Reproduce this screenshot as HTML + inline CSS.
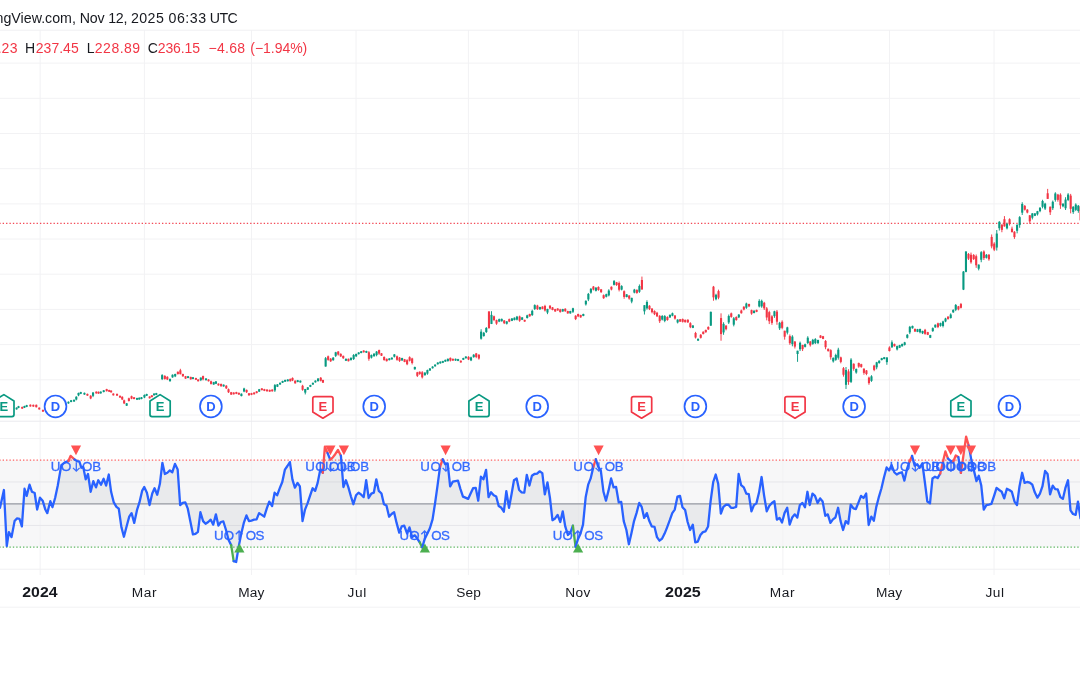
<!DOCTYPE html><html><head><meta charset="utf-8"><style>html,body{margin:0;padding:0;background:#fff;width:1080px;height:675px;overflow:hidden}</style></head><body><svg width="1080" height="675" viewBox="0 0 1080 675" style="position:absolute;left:0;top:0;will-change:transform;font-family:'Liberation Sans',sans-serif">
<rect width="1080" height="675" fill="#fff"/>
<rect x="0" y="460.2" width="1080" height="87.00000000000006" fill="#787B86" fill-opacity="0.06"/>
<line x1="40.15" y1="30.2" x2="40.15" y2="575" stroke="#F2F2F4" stroke-width="1"/>
<line x1="144.4" y1="30.2" x2="144.4" y2="575" stroke="#F2F2F4" stroke-width="1"/>
<line x1="251.5" y1="30.2" x2="251.5" y2="575" stroke="#F2F2F4" stroke-width="1"/>
<line x1="356.0" y1="30.2" x2="356.0" y2="575" stroke="#F2F2F4" stroke-width="1"/>
<line x1="468.4" y1="30.2" x2="468.4" y2="575" stroke="#F2F2F4" stroke-width="1"/>
<line x1="578.4" y1="30.2" x2="578.4" y2="575" stroke="#F2F2F4" stroke-width="1"/>
<line x1="683.0" y1="30.2" x2="683.0" y2="575" stroke="#F2F2F4" stroke-width="1"/>
<line x1="782.9" y1="30.2" x2="782.9" y2="575" stroke="#F2F2F4" stroke-width="1"/>
<line x1="889.5" y1="30.2" x2="889.5" y2="575" stroke="#F2F2F4" stroke-width="1"/>
<line x1="994.0" y1="30.2" x2="994.0" y2="575" stroke="#F2F2F4" stroke-width="1"/>
<line x1="0" y1="63.1" x2="1080" y2="63.1" stroke="#F2F2F4" stroke-width="1"/>
<line x1="0" y1="98.3" x2="1080" y2="98.3" stroke="#F2F2F4" stroke-width="1"/>
<line x1="0" y1="133.5" x2="1080" y2="133.5" stroke="#F2F2F4" stroke-width="1"/>
<line x1="0" y1="168.7" x2="1080" y2="168.7" stroke="#F2F2F4" stroke-width="1"/>
<line x1="0" y1="203.9" x2="1080" y2="203.9" stroke="#F2F2F4" stroke-width="1"/>
<line x1="0" y1="239.0" x2="1080" y2="239.0" stroke="#F2F2F4" stroke-width="1"/>
<line x1="0" y1="274.2" x2="1080" y2="274.2" stroke="#F2F2F4" stroke-width="1"/>
<line x1="0" y1="309.4" x2="1080" y2="309.4" stroke="#F2F2F4" stroke-width="1"/>
<line x1="0" y1="344.6" x2="1080" y2="344.6" stroke="#F2F2F4" stroke-width="1"/>
<line x1="0" y1="379.8" x2="1080" y2="379.8" stroke="#F2F2F4" stroke-width="1"/>
<line x1="0" y1="415.0" x2="1080" y2="415.0" stroke="#F2F2F4" stroke-width="1"/>
<line x1="0" y1="438.45" x2="1080" y2="438.45" stroke="#F2F2F4" stroke-width="1"/>
<line x1="0" y1="481.95" x2="1080" y2="481.95" stroke="#E6E6EA" stroke-width="1"/>
<line x1="0" y1="525.45" x2="1080" y2="525.45" stroke="#E6E6EA" stroke-width="1"/>
<line x1="0" y1="30.2" x2="1080" y2="30.2" stroke="#F0F0F2" stroke-width="1"/>
<line x1="0" y1="421.2" x2="1080" y2="421.2" stroke="#EAEAEE" stroke-width="1"/>
<line x1="0" y1="569.2" x2="1080" y2="569.2" stroke="#F0F0F2" stroke-width="1"/>
<line x1="0" y1="607.2" x2="1080" y2="607.2" stroke="#F2F2F4" stroke-width="1"/>
<line x1="-0.72" y1="223.3" x2="1080" y2="223.3" stroke="#F23645" stroke-width="1.2" stroke-dasharray="1.35 2.04" stroke-opacity="0.9"/>
<line x1="16.59" y1="407.37" x2="16.59" y2="409.67" stroke="#089981" stroke-width="0.95"/>
<rect x="15.54" y="407.67" width="2.1" height="1.70" fill="#089981"/>
<line x1="18.52" y1="405.89" x2="18.52" y2="408.19" stroke="#089981" stroke-width="0.95"/>
<rect x="17.47" y="406.19" width="2.1" height="1.70" fill="#089981"/>
<line x1="22.22" y1="406.63" x2="22.22" y2="408.93" stroke="#F23645" stroke-width="0.95"/>
<rect x="21.17" y="406.93" width="2.1" height="1.70" fill="#F23645"/>
<line x1="24.44" y1="405.74" x2="24.44" y2="408.04" stroke="#089981" stroke-width="0.95"/>
<rect x="23.39" y="406.04" width="2.1" height="1.70" fill="#089981"/>
<line x1="26.67" y1="404.85" x2="26.67" y2="407.15" stroke="#089981" stroke-width="0.95"/>
<rect x="25.62" y="405.15" width="2.1" height="1.70" fill="#089981"/>
<line x1="30.37" y1="404.41" x2="30.37" y2="406.71" stroke="#F23645" stroke-width="0.95"/>
<rect x="29.32" y="404.71" width="2.1" height="1.70" fill="#F23645"/>
<line x1="33.33" y1="404.55" x2="33.33" y2="406.85" stroke="#F23645" stroke-width="0.95"/>
<rect x="32.28" y="404.85" width="2.1" height="1.70" fill="#F23645"/>
<line x1="36.30" y1="404.52" x2="36.30" y2="407.48" stroke="#F23645" stroke-width="0.95"/>
<rect x="35.25" y="404.82" width="2.1" height="2.36" fill="#F23645"/>
<line x1="39.26" y1="407.37" x2="39.26" y2="409.67" stroke="#F23645" stroke-width="0.95"/>
<rect x="38.21" y="407.67" width="2.1" height="1.70" fill="#F23645"/>
<line x1="42.96" y1="409.59" x2="42.96" y2="411.89" stroke="#F23645" stroke-width="0.95"/>
<rect x="41.91" y="409.89" width="2.1" height="1.70" fill="#F23645"/>
<line x1="68.44" y1="401.44" x2="68.44" y2="403.74" stroke="#089981" stroke-width="0.95"/>
<rect x="67.39" y="401.74" width="2.1" height="1.70" fill="#089981"/>
<line x1="71.11" y1="399.96" x2="71.11" y2="402.26" stroke="#089981" stroke-width="0.95"/>
<rect x="70.06" y="400.26" width="2.1" height="1.70" fill="#089981"/>
<line x1="74.07" y1="399.52" x2="74.07" y2="401.82" stroke="#089981" stroke-width="0.95"/>
<rect x="73.02" y="399.82" width="2.1" height="1.70" fill="#089981"/>
<line x1="76.30" y1="396.22" x2="76.30" y2="400.37" stroke="#089981" stroke-width="0.95"/>
<rect x="75.25" y="396.74" width="2.1" height="2.82" fill="#089981"/>
<line x1="78.52" y1="392.67" x2="78.52" y2="396.22" stroke="#089981" stroke-width="0.95"/>
<rect x="77.47" y="392.94" width="2.1" height="2.42" fill="#089981"/>
<line x1="80.74" y1="391.81" x2="80.74" y2="394.11" stroke="#089981" stroke-width="0.95"/>
<rect x="79.69" y="392.11" width="2.1" height="1.70" fill="#089981"/>
<line x1="84.44" y1="392.55" x2="84.44" y2="394.85" stroke="#089981" stroke-width="0.95"/>
<rect x="83.39" y="392.85" width="2.1" height="1.70" fill="#089981"/>
<line x1="87.41" y1="393.59" x2="87.41" y2="395.89" stroke="#F23645" stroke-width="0.95"/>
<rect x="86.36" y="393.89" width="2.1" height="1.70" fill="#F23645"/>
<line x1="90.67" y1="395.19" x2="90.67" y2="399.19" stroke="#F23645" stroke-width="0.95"/>
<rect x="89.62" y="395.75" width="2.1" height="2.72" fill="#F23645"/>
<line x1="93.04" y1="392.22" x2="93.04" y2="397.11" stroke="#089981" stroke-width="0.95"/>
<rect x="91.99" y="392.49" width="2.1" height="3.32" fill="#089981"/>
<line x1="96.30" y1="391.37" x2="96.30" y2="393.67" stroke="#F23645" stroke-width="0.95"/>
<rect x="95.25" y="391.67" width="2.1" height="1.70" fill="#F23645"/>
<line x1="98.52" y1="391.52" x2="98.52" y2="393.82" stroke="#F23645" stroke-width="0.95"/>
<rect x="97.47" y="391.82" width="2.1" height="1.70" fill="#F23645"/>
<line x1="100.74" y1="391.37" x2="100.74" y2="393.67" stroke="#089981" stroke-width="0.95"/>
<rect x="99.69" y="391.67" width="2.1" height="1.70" fill="#089981"/>
<line x1="103.70" y1="390.04" x2="103.70" y2="392.34" stroke="#089981" stroke-width="0.95"/>
<rect x="102.65" y="390.34" width="2.1" height="1.70" fill="#089981"/>
<line x1="106.67" y1="388.81" x2="106.67" y2="391.48" stroke="#F23645" stroke-width="0.95"/>
<rect x="105.62" y="389.11" width="2.1" height="2.07" fill="#F23645"/>
<line x1="109.19" y1="389.74" x2="109.19" y2="392.04" stroke="#F23645" stroke-width="0.95"/>
<rect x="108.14" y="390.04" width="2.1" height="1.70" fill="#F23645"/>
<line x1="111.11" y1="390.33" x2="111.11" y2="392.63" stroke="#F23645" stroke-width="0.95"/>
<rect x="110.06" y="390.63" width="2.1" height="1.70" fill="#F23645"/>
<line x1="113.33" y1="393.29" x2="113.33" y2="395.59" stroke="#F23645" stroke-width="0.95"/>
<rect x="112.28" y="393.59" width="2.1" height="1.70" fill="#F23645"/>
<line x1="117.04" y1="393.59" x2="117.04" y2="395.89" stroke="#F23645" stroke-width="0.95"/>
<rect x="115.99" y="393.89" width="2.1" height="1.70" fill="#F23645"/>
<line x1="120.00" y1="395.52" x2="120.00" y2="397.82" stroke="#F23645" stroke-width="0.95"/>
<rect x="118.95" y="395.82" width="2.1" height="1.70" fill="#F23645"/>
<line x1="122.22" y1="396.22" x2="122.22" y2="400.07" stroke="#F23645" stroke-width="0.95"/>
<rect x="121.17" y="396.84" width="2.1" height="2.62" fill="#F23645"/>
<line x1="124.15" y1="399.63" x2="124.15" y2="404.07" stroke="#F23645" stroke-width="0.95"/>
<rect x="123.10" y="400.34" width="2.1" height="3.02" fill="#F23645"/>
<line x1="126.67" y1="403.04" x2="126.67" y2="406.00" stroke="#089981" stroke-width="0.95"/>
<rect x="125.62" y="403.34" width="2.1" height="2.36" fill="#089981"/>
<line x1="128.89" y1="397.70" x2="128.89" y2="401.56" stroke="#F23645" stroke-width="0.95"/>
<rect x="127.84" y="398.32" width="2.1" height="2.62" fill="#F23645"/>
<line x1="131.56" y1="395.63" x2="131.56" y2="399.19" stroke="#F23645" stroke-width="0.95"/>
<rect x="130.51" y="396.20" width="2.1" height="2.42" fill="#F23645"/>
<line x1="134.07" y1="397.00" x2="134.07" y2="399.30" stroke="#F23645" stroke-width="0.95"/>
<rect x="133.02" y="397.30" width="2.1" height="1.70" fill="#F23645"/>
<line x1="137.04" y1="397.74" x2="137.04" y2="400.04" stroke="#089981" stroke-width="0.95"/>
<rect x="135.99" y="398.04" width="2.1" height="1.70" fill="#089981"/>
<line x1="139.26" y1="397.44" x2="139.26" y2="399.74" stroke="#089981" stroke-width="0.95"/>
<rect x="138.21" y="397.74" width="2.1" height="1.70" fill="#089981"/>
<line x1="141.48" y1="397.00" x2="141.48" y2="399.30" stroke="#089981" stroke-width="0.95"/>
<rect x="140.43" y="397.30" width="2.1" height="1.70" fill="#089981"/>
<line x1="144.44" y1="394.44" x2="144.44" y2="398.15" stroke="#089981" stroke-width="0.95"/>
<rect x="143.39" y="394.96" width="2.1" height="2.52" fill="#089981"/>
<line x1="146.67" y1="393.74" x2="146.67" y2="396.04" stroke="#089981" stroke-width="0.95"/>
<rect x="145.62" y="394.04" width="2.1" height="1.70" fill="#089981"/>
<line x1="149.63" y1="396.26" x2="149.63" y2="398.56" stroke="#F23645" stroke-width="0.95"/>
<rect x="148.58" y="396.56" width="2.1" height="1.70" fill="#F23645"/>
<line x1="151.85" y1="395.07" x2="151.85" y2="397.37" stroke="#F23645" stroke-width="0.95"/>
<rect x="150.80" y="395.37" width="2.1" height="1.70" fill="#F23645"/>
<line x1="154.07" y1="393.29" x2="154.07" y2="395.59" stroke="#089981" stroke-width="0.95"/>
<rect x="153.02" y="393.59" width="2.1" height="1.70" fill="#089981"/>
<line x1="156.30" y1="392.85" x2="156.30" y2="395.15" stroke="#089981" stroke-width="0.95"/>
<rect x="155.25" y="393.15" width="2.1" height="1.70" fill="#089981"/>
<line x1="162.15" y1="374.15" x2="162.15" y2="380.07" stroke="#089981" stroke-width="0.95"/>
<rect x="161.10" y="375.10" width="2.1" height="4.03" fill="#089981"/>
<line x1="164.81" y1="375.19" x2="164.81" y2="379.63" stroke="#F23645" stroke-width="0.95"/>
<rect x="163.76" y="375.90" width="2.1" height="3.02" fill="#F23645"/>
<line x1="167.33" y1="376.22" x2="167.33" y2="380.07" stroke="#F23645" stroke-width="0.95"/>
<rect x="166.28" y="376.84" width="2.1" height="2.62" fill="#F23645"/>
<line x1="170.00" y1="378.59" x2="170.00" y2="381.56" stroke="#089981" stroke-width="0.95"/>
<rect x="168.95" y="378.89" width="2.1" height="2.36" fill="#089981"/>
<line x1="172.52" y1="374.44" x2="172.52" y2="377.70" stroke="#089981" stroke-width="0.95"/>
<rect x="171.47" y="374.74" width="2.1" height="2.66" fill="#089981"/>
<line x1="175.19" y1="373.70" x2="175.19" y2="377.11" stroke="#089981" stroke-width="0.95"/>
<rect x="174.14" y="374.03" width="2.1" height="2.32" fill="#089981"/>
<line x1="177.85" y1="371.48" x2="177.85" y2="374.44" stroke="#F23645" stroke-width="0.95"/>
<rect x="176.80" y="371.78" width="2.1" height="2.36" fill="#F23645"/>
<line x1="180.37" y1="368.81" x2="180.37" y2="374.44" stroke="#F23645" stroke-width="0.95"/>
<rect x="179.32" y="370.31" width="2.1" height="3.83" fill="#F23645"/>
<line x1="182.89" y1="373.70" x2="182.89" y2="376.67" stroke="#F23645" stroke-width="0.95"/>
<rect x="181.84" y="374.00" width="2.1" height="2.36" fill="#F23645"/>
<line x1="185.56" y1="375.93" x2="185.56" y2="378.89" stroke="#F23645" stroke-width="0.95"/>
<rect x="184.51" y="376.23" width="2.1" height="2.36" fill="#F23645"/>
<line x1="188.07" y1="375.96" x2="188.07" y2="378.26" stroke="#089981" stroke-width="0.95"/>
<rect x="187.02" y="376.26" width="2.1" height="1.70" fill="#089981"/>
<line x1="190.74" y1="376.67" x2="190.74" y2="379.63" stroke="#F23645" stroke-width="0.95"/>
<rect x="189.69" y="376.97" width="2.1" height="2.36" fill="#F23645"/>
<line x1="192.96" y1="377.00" x2="192.96" y2="379.30" stroke="#089981" stroke-width="0.95"/>
<rect x="191.91" y="377.30" width="2.1" height="1.70" fill="#089981"/>
<line x1="195.93" y1="377.74" x2="195.93" y2="380.04" stroke="#F23645" stroke-width="0.95"/>
<rect x="194.88" y="378.04" width="2.1" height="1.70" fill="#F23645"/>
<line x1="198.15" y1="379.22" x2="198.15" y2="381.52" stroke="#F23645" stroke-width="0.95"/>
<rect x="197.10" y="379.52" width="2.1" height="1.70" fill="#F23645"/>
<line x1="200.81" y1="377.41" x2="200.81" y2="381.11" stroke="#089981" stroke-width="0.95"/>
<rect x="199.76" y="377.63" width="2.1" height="2.52" fill="#089981"/>
<line x1="203.04" y1="375.63" x2="203.04" y2="380.37" stroke="#F23645" stroke-width="0.95"/>
<rect x="201.99" y="376.09" width="2.1" height="3.22" fill="#F23645"/>
<line x1="206.00" y1="378.18" x2="206.00" y2="380.48" stroke="#089981" stroke-width="0.95"/>
<rect x="204.95" y="378.48" width="2.1" height="1.70" fill="#089981"/>
<line x1="208.52" y1="379.22" x2="208.52" y2="381.52" stroke="#F23645" stroke-width="0.95"/>
<rect x="207.47" y="379.52" width="2.1" height="1.70" fill="#F23645"/>
<line x1="211.04" y1="380.67" x2="211.04" y2="384.52" stroke="#F23645" stroke-width="0.95"/>
<rect x="209.99" y="381.28" width="2.1" height="2.62" fill="#F23645"/>
<line x1="213.70" y1="381.85" x2="213.70" y2="384.81" stroke="#089981" stroke-width="0.95"/>
<rect x="212.65" y="382.15" width="2.1" height="2.36" fill="#089981"/>
<line x1="215.93" y1="381.11" x2="215.93" y2="384.07" stroke="#089981" stroke-width="0.95"/>
<rect x="214.88" y="381.41" width="2.1" height="2.36" fill="#089981"/>
<line x1="218.44" y1="383.37" x2="218.44" y2="385.67" stroke="#F23645" stroke-width="0.95"/>
<rect x="217.39" y="383.67" width="2.1" height="1.70" fill="#F23645"/>
<line x1="221.11" y1="383.63" x2="221.11" y2="386.59" stroke="#F23645" stroke-width="0.95"/>
<rect x="220.06" y="383.93" width="2.1" height="2.36" fill="#F23645"/>
<line x1="223.63" y1="384.41" x2="223.63" y2="386.71" stroke="#089981" stroke-width="0.95"/>
<rect x="222.58" y="384.71" width="2.1" height="1.70" fill="#089981"/>
<line x1="226.30" y1="385.11" x2="226.30" y2="388.96" stroke="#F23645" stroke-width="0.95"/>
<rect x="225.25" y="385.73" width="2.1" height="2.62" fill="#F23645"/>
<line x1="228.52" y1="388.52" x2="228.52" y2="392.96" stroke="#F23645" stroke-width="0.95"/>
<rect x="227.47" y="389.23" width="2.1" height="3.02" fill="#F23645"/>
<line x1="231.19" y1="391.93" x2="231.19" y2="394.89" stroke="#F23645" stroke-width="0.95"/>
<rect x="230.14" y="392.23" width="2.1" height="2.36" fill="#F23645"/>
<line x1="233.70" y1="392.26" x2="233.70" y2="394.56" stroke="#F23645" stroke-width="0.95"/>
<rect x="232.65" y="392.56" width="2.1" height="1.70" fill="#F23645"/>
<line x1="236.37" y1="391.81" x2="236.37" y2="394.11" stroke="#F23645" stroke-width="0.95"/>
<rect x="235.32" y="392.11" width="2.1" height="1.70" fill="#F23645"/>
<line x1="238.89" y1="392.55" x2="238.89" y2="394.85" stroke="#F23645" stroke-width="0.95"/>
<rect x="237.84" y="392.85" width="2.1" height="1.70" fill="#F23645"/>
<line x1="241.41" y1="393.41" x2="241.41" y2="396.37" stroke="#089981" stroke-width="0.95"/>
<rect x="240.36" y="393.71" width="2.1" height="2.36" fill="#089981"/>
<line x1="244.07" y1="387.78" x2="244.07" y2="392.22" stroke="#089981" stroke-width="0.95"/>
<rect x="243.02" y="388.49" width="2.1" height="3.02" fill="#089981"/>
<line x1="246.59" y1="389.56" x2="246.59" y2="392.96" stroke="#F23645" stroke-width="0.95"/>
<rect x="245.54" y="389.88" width="2.1" height="2.32" fill="#F23645"/>
<line x1="248.96" y1="392.96" x2="248.96" y2="395.63" stroke="#F23645" stroke-width="0.95"/>
<rect x="247.91" y="393.26" width="2.1" height="2.07" fill="#F23645"/>
<line x1="251.48" y1="392.85" x2="251.48" y2="395.15" stroke="#F23645" stroke-width="0.95"/>
<rect x="250.43" y="393.15" width="2.1" height="1.70" fill="#F23645"/>
<line x1="254.15" y1="392.26" x2="254.15" y2="394.56" stroke="#F23645" stroke-width="0.95"/>
<rect x="253.10" y="392.56" width="2.1" height="1.70" fill="#F23645"/>
<line x1="256.67" y1="391.07" x2="256.67" y2="393.37" stroke="#F23645" stroke-width="0.95"/>
<rect x="255.62" y="391.37" width="2.1" height="1.70" fill="#F23645"/>
<line x1="259.19" y1="388.96" x2="259.19" y2="391.93" stroke="#089981" stroke-width="0.95"/>
<rect x="258.14" y="389.26" width="2.1" height="2.36" fill="#089981"/>
<line x1="261.85" y1="388.11" x2="261.85" y2="390.41" stroke="#F23645" stroke-width="0.95"/>
<rect x="260.80" y="388.41" width="2.1" height="1.70" fill="#F23645"/>
<line x1="264.37" y1="388.85" x2="264.37" y2="391.15" stroke="#F23645" stroke-width="0.95"/>
<rect x="263.32" y="389.15" width="2.1" height="1.70" fill="#F23645"/>
<line x1="267.04" y1="389.29" x2="267.04" y2="391.59" stroke="#F23645" stroke-width="0.95"/>
<rect x="265.99" y="389.59" width="2.1" height="1.70" fill="#F23645"/>
<line x1="269.70" y1="389.59" x2="269.70" y2="391.89" stroke="#F23645" stroke-width="0.95"/>
<rect x="268.65" y="389.89" width="2.1" height="1.70" fill="#F23645"/>
<line x1="272.22" y1="389.29" x2="272.22" y2="391.59" stroke="#F23645" stroke-width="0.95"/>
<rect x="271.17" y="389.59" width="2.1" height="1.70" fill="#F23645"/>
<line x1="274.89" y1="384.07" x2="274.89" y2="391.93" stroke="#089981" stroke-width="0.95"/>
<rect x="273.84" y="385.11" width="2.1" height="5.34" fill="#089981"/>
<line x1="277.41" y1="384.07" x2="277.41" y2="387.04" stroke="#089981" stroke-width="0.95"/>
<rect x="276.36" y="384.37" width="2.1" height="2.36" fill="#089981"/>
<line x1="280.07" y1="382.48" x2="280.07" y2="384.78" stroke="#089981" stroke-width="0.95"/>
<rect x="279.02" y="382.78" width="2.1" height="1.70" fill="#089981"/>
<line x1="282.59" y1="380.70" x2="282.59" y2="383.00" stroke="#089981" stroke-width="0.95"/>
<rect x="281.54" y="381.00" width="2.1" height="1.70" fill="#089981"/>
<line x1="285.11" y1="379.66" x2="285.11" y2="381.96" stroke="#089981" stroke-width="0.95"/>
<rect x="284.06" y="379.96" width="2.1" height="1.70" fill="#089981"/>
<line x1="287.78" y1="379.22" x2="287.78" y2="381.52" stroke="#089981" stroke-width="0.95"/>
<rect x="286.73" y="379.52" width="2.1" height="1.70" fill="#089981"/>
<line x1="290.30" y1="378.59" x2="290.30" y2="381.56" stroke="#F23645" stroke-width="0.95"/>
<rect x="289.25" y="378.89" width="2.1" height="2.36" fill="#F23645"/>
<line x1="292.52" y1="377.41" x2="292.52" y2="381.11" stroke="#F23645" stroke-width="0.95"/>
<rect x="291.47" y="377.93" width="2.1" height="2.52" fill="#F23645"/>
<line x1="295.19" y1="380.37" x2="295.19" y2="383.63" stroke="#F23645" stroke-width="0.95"/>
<rect x="294.14" y="380.67" width="2.1" height="2.66" fill="#F23645"/>
<line x1="297.70" y1="379.96" x2="297.70" y2="382.26" stroke="#089981" stroke-width="0.95"/>
<rect x="296.65" y="380.26" width="2.1" height="1.70" fill="#089981"/>
<line x1="300.37" y1="380.41" x2="300.37" y2="382.71" stroke="#089981" stroke-width="0.95"/>
<rect x="299.32" y="380.71" width="2.1" height="1.70" fill="#089981"/>
<line x1="302.59" y1="384.81" x2="302.59" y2="390.74" stroke="#F23645" stroke-width="0.95"/>
<rect x="301.54" y="385.76" width="2.1" height="4.03" fill="#F23645"/>
<line x1="305.26" y1="388.96" x2="305.26" y2="394.44" stroke="#089981" stroke-width="0.95"/>
<rect x="304.21" y="388.96" width="2.1" height="3.64" fill="#089981"/>
<line x1="307.78" y1="387.04" x2="307.78" y2="390.00" stroke="#089981" stroke-width="0.95"/>
<rect x="306.73" y="387.34" width="2.1" height="2.36" fill="#089981"/>
<line x1="310.37" y1="384.78" x2="310.37" y2="387.08" stroke="#089981" stroke-width="0.95"/>
<rect x="309.32" y="385.08" width="2.1" height="1.70" fill="#089981"/>
<line x1="312.89" y1="382.55" x2="312.89" y2="384.85" stroke="#089981" stroke-width="0.95"/>
<rect x="311.84" y="382.85" width="2.1" height="1.70" fill="#089981"/>
<line x1="315.41" y1="380.33" x2="315.41" y2="382.63" stroke="#089981" stroke-width="0.95"/>
<rect x="314.36" y="380.63" width="2.1" height="1.70" fill="#089981"/>
<line x1="318.07" y1="378.22" x2="318.07" y2="381.48" stroke="#089981" stroke-width="0.95"/>
<rect x="317.02" y="378.52" width="2.1" height="2.66" fill="#089981"/>
<line x1="320.74" y1="377.04" x2="320.74" y2="381.48" stroke="#F23645" stroke-width="0.95"/>
<rect x="319.69" y="377.75" width="2.1" height="3.02" fill="#F23645"/>
<line x1="322.96" y1="379.70" x2="322.96" y2="382.96" stroke="#F23645" stroke-width="0.95"/>
<rect x="321.91" y="380.00" width="2.1" height="2.66" fill="#F23645"/>
<line x1="325.63" y1="357.04" x2="325.63" y2="366.67" stroke="#089981" stroke-width="0.95"/>
<rect x="324.58" y="358.22" width="2.1" height="8.30" fill="#089981"/>
<line x1="328.15" y1="355.56" x2="328.15" y2="360.74" stroke="#F23645" stroke-width="0.95"/>
<rect x="327.10" y="356.31" width="2.1" height="3.53" fill="#F23645"/>
<line x1="330.67" y1="358.07" x2="330.67" y2="361.93" stroke="#F23645" stroke-width="0.95"/>
<rect x="329.62" y="358.69" width="2.1" height="2.62" fill="#F23645"/>
<line x1="333.19" y1="357.04" x2="333.19" y2="360.74" stroke="#089981" stroke-width="0.95"/>
<rect x="332.14" y="357.70" width="2.1" height="2.52" fill="#089981"/>
<line x1="335.70" y1="351.85" x2="335.70" y2="357.04" stroke="#089981" stroke-width="0.95"/>
<rect x="334.65" y="352.31" width="2.1" height="3.53" fill="#089981"/>
<line x1="338.22" y1="351.11" x2="338.22" y2="355.56" stroke="#F23645" stroke-width="0.95"/>
<rect x="337.17" y="351.53" width="2.1" height="3.02" fill="#F23645"/>
<line x1="340.74" y1="353.33" x2="340.74" y2="357.04" stroke="#F23645" stroke-width="0.95"/>
<rect x="339.69" y="353.85" width="2.1" height="2.52" fill="#F23645"/>
<line x1="343.26" y1="355.56" x2="343.26" y2="358.96" stroke="#F23645" stroke-width="0.95"/>
<rect x="342.21" y="355.88" width="2.1" height="2.32" fill="#F23645"/>
<line x1="345.93" y1="358.52" x2="345.93" y2="361.04" stroke="#089981" stroke-width="0.95"/>
<rect x="344.88" y="358.82" width="2.1" height="1.92" fill="#089981"/>
<line x1="348.44" y1="358.52" x2="348.44" y2="361.48" stroke="#F23645" stroke-width="0.95"/>
<rect x="347.39" y="358.82" width="2.1" height="2.36" fill="#F23645"/>
<line x1="350.96" y1="357.48" x2="350.96" y2="360.44" stroke="#089981" stroke-width="0.95"/>
<rect x="349.91" y="357.78" width="2.1" height="2.36" fill="#089981"/>
<line x1="353.63" y1="354.07" x2="353.63" y2="360.00" stroke="#089981" stroke-width="0.95"/>
<rect x="352.58" y="355.02" width="2.1" height="4.03" fill="#089981"/>
<line x1="356.15" y1="353.63" x2="356.15" y2="357.04" stroke="#089981" stroke-width="0.95"/>
<rect x="355.10" y="353.95" width="2.1" height="2.32" fill="#089981"/>
<line x1="358.67" y1="352.18" x2="358.67" y2="354.48" stroke="#089981" stroke-width="0.95"/>
<rect x="357.62" y="352.48" width="2.1" height="1.70" fill="#089981"/>
<line x1="361.19" y1="351.00" x2="361.19" y2="353.30" stroke="#089981" stroke-width="0.95"/>
<rect x="360.14" y="351.30" width="2.1" height="1.70" fill="#089981"/>
<line x1="363.70" y1="350.26" x2="363.70" y2="352.56" stroke="#F23645" stroke-width="0.95"/>
<rect x="362.65" y="350.56" width="2.1" height="1.70" fill="#F23645"/>
<line x1="366.37" y1="350.70" x2="366.37" y2="353.00" stroke="#089981" stroke-width="0.95"/>
<rect x="365.32" y="351.00" width="2.1" height="1.70" fill="#089981"/>
<line x1="368.89" y1="351.11" x2="368.89" y2="360.74" stroke="#F23645" stroke-width="0.95"/>
<rect x="367.84" y="352.28" width="2.1" height="6.55" fill="#F23645"/>
<line x1="371.41" y1="354.52" x2="371.41" y2="358.52" stroke="#089981" stroke-width="0.95"/>
<rect x="370.36" y="354.94" width="2.1" height="2.72" fill="#089981"/>
<line x1="374.07" y1="353.33" x2="374.07" y2="356.59" stroke="#089981" stroke-width="0.95"/>
<rect x="373.02" y="353.63" width="2.1" height="2.66" fill="#089981"/>
<line x1="376.59" y1="351.11" x2="376.59" y2="356.30" stroke="#089981" stroke-width="0.95"/>
<rect x="375.54" y="351.57" width="2.1" height="3.53" fill="#089981"/>
<line x1="379.11" y1="349.63" x2="379.11" y2="354.81" stroke="#F23645" stroke-width="0.95"/>
<rect x="378.06" y="350.09" width="2.1" height="3.53" fill="#F23645"/>
<line x1="381.48" y1="353.04" x2="381.48" y2="356.00" stroke="#F23645" stroke-width="0.95"/>
<rect x="380.43" y="353.34" width="2.1" height="2.36" fill="#F23645"/>
<line x1="384.15" y1="356.30" x2="384.15" y2="360.74" stroke="#F23645" stroke-width="0.95"/>
<rect x="383.10" y="357.01" width="2.1" height="3.02" fill="#F23645"/>
<line x1="386.67" y1="358.52" x2="386.67" y2="361.48" stroke="#F23645" stroke-width="0.95"/>
<rect x="385.62" y="358.82" width="2.1" height="2.36" fill="#F23645"/>
<line x1="389.33" y1="358.11" x2="389.33" y2="360.41" stroke="#089981" stroke-width="0.95"/>
<rect x="388.28" y="358.41" width="2.1" height="1.70" fill="#089981"/>
<line x1="391.85" y1="357.37" x2="391.85" y2="359.67" stroke="#089981" stroke-width="0.95"/>
<rect x="390.80" y="357.67" width="2.1" height="1.70" fill="#089981"/>
<line x1="394.37" y1="354.07" x2="394.37" y2="357.48" stroke="#089981" stroke-width="0.95"/>
<rect x="393.32" y="354.40" width="2.1" height="2.32" fill="#089981"/>
<line x1="397.04" y1="355.56" x2="397.04" y2="360.74" stroke="#F23645" stroke-width="0.95"/>
<rect x="395.99" y="356.31" width="2.1" height="3.53" fill="#F23645"/>
<line x1="399.56" y1="357.04" x2="399.56" y2="361.93" stroke="#F23645" stroke-width="0.95"/>
<rect x="398.51" y="357.60" width="2.1" height="3.32" fill="#F23645"/>
<line x1="402.07" y1="357.78" x2="402.07" y2="360.74" stroke="#089981" stroke-width="0.95"/>
<rect x="401.02" y="358.08" width="2.1" height="2.36" fill="#089981"/>
<line x1="404.59" y1="358.96" x2="404.59" y2="362.22" stroke="#F23645" stroke-width="0.95"/>
<rect x="403.54" y="359.26" width="2.1" height="2.66" fill="#F23645"/>
<line x1="407.11" y1="359.26" x2="407.11" y2="365.19" stroke="#F23645" stroke-width="0.95"/>
<rect x="406.06" y="360.21" width="2.1" height="4.03" fill="#F23645"/>
<line x1="409.63" y1="356.30" x2="409.63" y2="361.48" stroke="#F23645" stroke-width="0.95"/>
<rect x="408.58" y="357.20" width="2.1" height="3.53" fill="#F23645"/>
<line x1="412.15" y1="357.78" x2="412.15" y2="364.44" stroke="#F23645" stroke-width="0.95"/>
<rect x="411.10" y="358.47" width="2.1" height="4.53" fill="#F23645"/>
<line x1="414.81" y1="366.67" x2="414.81" y2="369.63" stroke="#089981" stroke-width="0.95"/>
<rect x="413.76" y="366.97" width="2.1" height="2.36" fill="#089981"/>
<line x1="417.33" y1="371.85" x2="417.33" y2="377.04" stroke="#F23645" stroke-width="0.95"/>
<rect x="416.28" y="372.31" width="2.1" height="3.53" fill="#F23645"/>
<line x1="419.70" y1="371.41" x2="419.70" y2="374.81" stroke="#F23645" stroke-width="0.95"/>
<rect x="418.65" y="371.73" width="2.1" height="2.32" fill="#F23645"/>
<line x1="422.22" y1="371.11" x2="422.22" y2="378.52" stroke="#F23645" stroke-width="0.95"/>
<rect x="421.17" y="372.30" width="2.1" height="5.04" fill="#F23645"/>
<line x1="424.89" y1="372.30" x2="424.89" y2="375.56" stroke="#089981" stroke-width="0.95"/>
<rect x="423.84" y="372.60" width="2.1" height="2.66" fill="#089981"/>
<line x1="427.41" y1="369.63" x2="427.41" y2="374.81" stroke="#089981" stroke-width="0.95"/>
<rect x="426.36" y="370.09" width="2.1" height="3.53" fill="#089981"/>
<line x1="429.93" y1="368.15" x2="429.93" y2="370.81" stroke="#089981" stroke-width="0.95"/>
<rect x="428.88" y="368.45" width="2.1" height="2.07" fill="#089981"/>
<line x1="432.59" y1="366.26" x2="432.59" y2="368.56" stroke="#089981" stroke-width="0.95"/>
<rect x="431.54" y="366.56" width="2.1" height="1.70" fill="#089981"/>
<line x1="435.11" y1="364.33" x2="435.11" y2="366.63" stroke="#089981" stroke-width="0.95"/>
<rect x="434.06" y="364.63" width="2.1" height="1.70" fill="#089981"/>
<line x1="437.78" y1="362.26" x2="437.78" y2="364.56" stroke="#089981" stroke-width="0.95"/>
<rect x="436.73" y="362.56" width="2.1" height="1.70" fill="#089981"/>
<line x1="440.30" y1="361.37" x2="440.30" y2="363.67" stroke="#089981" stroke-width="0.95"/>
<rect x="439.25" y="361.67" width="2.1" height="1.70" fill="#089981"/>
<line x1="442.81" y1="360.78" x2="442.81" y2="363.08" stroke="#089981" stroke-width="0.95"/>
<rect x="441.76" y="361.08" width="2.1" height="1.70" fill="#089981"/>
<line x1="445.33" y1="359.59" x2="445.33" y2="361.89" stroke="#089981" stroke-width="0.95"/>
<rect x="444.28" y="359.89" width="2.1" height="1.70" fill="#089981"/>
<line x1="447.85" y1="358.52" x2="447.85" y2="361.48" stroke="#089981" stroke-width="0.95"/>
<rect x="446.80" y="358.82" width="2.1" height="2.36" fill="#089981"/>
<line x1="450.37" y1="357.48" x2="450.37" y2="361.48" stroke="#F23645" stroke-width="0.95"/>
<rect x="449.32" y="357.90" width="2.1" height="2.72" fill="#F23645"/>
<line x1="452.89" y1="358.55" x2="452.89" y2="360.85" stroke="#F23645" stroke-width="0.95"/>
<rect x="451.84" y="358.85" width="2.1" height="1.70" fill="#F23645"/>
<line x1="455.56" y1="358.55" x2="455.56" y2="360.85" stroke="#089981" stroke-width="0.95"/>
<rect x="454.51" y="358.85" width="2.1" height="1.70" fill="#089981"/>
<line x1="458.07" y1="358.85" x2="458.07" y2="361.15" stroke="#089981" stroke-width="0.95"/>
<rect x="457.02" y="359.15" width="2.1" height="1.70" fill="#089981"/>
<line x1="460.81" y1="360.41" x2="460.81" y2="362.71" stroke="#F23645" stroke-width="0.95"/>
<rect x="459.76" y="360.71" width="2.1" height="1.70" fill="#F23645"/>
<line x1="463.33" y1="357.74" x2="463.33" y2="360.04" stroke="#089981" stroke-width="0.95"/>
<rect x="462.28" y="358.04" width="2.1" height="1.70" fill="#089981"/>
<line x1="465.85" y1="356.26" x2="465.85" y2="358.56" stroke="#089981" stroke-width="0.95"/>
<rect x="464.80" y="356.56" width="2.1" height="1.70" fill="#089981"/>
<line x1="468.52" y1="356.22" x2="468.52" y2="360.07" stroke="#F23645" stroke-width="0.95"/>
<rect x="467.47" y="356.84" width="2.1" height="2.62" fill="#F23645"/>
<line x1="471.04" y1="356.67" x2="471.04" y2="361.11" stroke="#089981" stroke-width="0.95"/>
<rect x="469.99" y="357.38" width="2.1" height="3.02" fill="#089981"/>
<line x1="473.70" y1="354.15" x2="473.70" y2="357.70" stroke="#089981" stroke-width="0.95"/>
<rect x="472.65" y="354.72" width="2.1" height="2.42" fill="#089981"/>
<line x1="476.22" y1="352.96" x2="476.22" y2="358.15" stroke="#F23645" stroke-width="0.95"/>
<rect x="475.17" y="353.42" width="2.1" height="3.53" fill="#F23645"/>
<line x1="478.89" y1="354.15" x2="478.89" y2="359.63" stroke="#F23645" stroke-width="0.95"/>
<rect x="477.84" y="354.80" width="2.1" height="3.73" fill="#F23645"/>
<line x1="481.11" y1="329.26" x2="481.11" y2="339.63" stroke="#089981" stroke-width="0.95"/>
<rect x="480.06" y="331.66" width="2.1" height="7.05" fill="#089981"/>
<line x1="483.78" y1="331.93" x2="483.78" y2="336.67" stroke="#089981" stroke-width="0.95"/>
<rect x="482.73" y="332.83" width="2.1" height="3.22" fill="#089981"/>
<line x1="486.30" y1="327.04" x2="486.30" y2="332.96" stroke="#089981" stroke-width="0.95"/>
<rect x="485.25" y="327.99" width="2.1" height="4.03" fill="#089981"/>
<line x1="488.96" y1="311.19" x2="488.96" y2="328.52" stroke="#F23645" stroke-width="0.95"/>
<rect x="487.91" y="311.48" width="2.1" height="16.74" fill="#F23645"/>
<line x1="491.48" y1="311.19" x2="491.48" y2="324.07" stroke="#089981" stroke-width="0.95"/>
<rect x="490.43" y="314.89" width="2.1" height="9.04" fill="#089981"/>
<line x1="494.00" y1="315.63" x2="494.00" y2="321.11" stroke="#F23645" stroke-width="0.95"/>
<rect x="492.95" y="316.28" width="2.1" height="3.73" fill="#F23645"/>
<line x1="496.52" y1="319.63" x2="496.52" y2="324.81" stroke="#F23645" stroke-width="0.95"/>
<rect x="495.47" y="320.09" width="2.1" height="3.53" fill="#F23645"/>
<line x1="499.19" y1="318.59" x2="499.19" y2="322.15" stroke="#089981" stroke-width="0.95"/>
<rect x="498.14" y="319.16" width="2.1" height="2.42" fill="#089981"/>
<line x1="501.70" y1="318.59" x2="501.70" y2="321.56" stroke="#089981" stroke-width="0.95"/>
<rect x="500.65" y="318.89" width="2.1" height="2.36" fill="#089981"/>
<line x1="504.22" y1="320.07" x2="504.22" y2="324.07" stroke="#F23645" stroke-width="0.95"/>
<rect x="503.17" y="320.49" width="2.1" height="2.72" fill="#F23645"/>
<line x1="506.74" y1="321.11" x2="506.74" y2="324.52" stroke="#089981" stroke-width="0.95"/>
<rect x="505.69" y="321.43" width="2.1" height="2.32" fill="#089981"/>
<line x1="509.26" y1="318.59" x2="509.26" y2="322.15" stroke="#F23645" stroke-width="0.95"/>
<rect x="508.21" y="319.16" width="2.1" height="2.42" fill="#F23645"/>
<line x1="511.93" y1="318.15" x2="511.93" y2="321.11" stroke="#089981" stroke-width="0.95"/>
<rect x="510.88" y="318.45" width="2.1" height="2.36" fill="#089981"/>
<line x1="514.44" y1="317.41" x2="514.44" y2="320.37" stroke="#089981" stroke-width="0.95"/>
<rect x="513.39" y="317.71" width="2.1" height="2.36" fill="#089981"/>
<line x1="516.96" y1="315.93" x2="516.96" y2="320.37" stroke="#089981" stroke-width="0.95"/>
<rect x="515.91" y="316.64" width="2.1" height="3.02" fill="#089981"/>
<line x1="519.63" y1="315.63" x2="519.63" y2="321.85" stroke="#F23645" stroke-width="0.95"/>
<rect x="518.58" y="316.48" width="2.1" height="4.23" fill="#F23645"/>
<line x1="522.15" y1="317.11" x2="522.15" y2="320.07" stroke="#089981" stroke-width="0.95"/>
<rect x="521.10" y="317.41" width="2.1" height="2.36" fill="#089981"/>
<line x1="524.67" y1="319.63" x2="524.67" y2="321.85" stroke="#F23645" stroke-width="0.95"/>
<rect x="523.62" y="319.93" width="2.1" height="1.62" fill="#F23645"/>
<line x1="527.19" y1="314.74" x2="527.19" y2="318.59" stroke="#089981" stroke-width="0.95"/>
<rect x="526.14" y="315.36" width="2.1" height="2.62" fill="#089981"/>
<line x1="529.70" y1="313.70" x2="529.70" y2="316.67" stroke="#F23645" stroke-width="0.95"/>
<rect x="528.65" y="314.00" width="2.1" height="2.36" fill="#F23645"/>
<line x1="532.22" y1="309.70" x2="532.22" y2="315.93" stroke="#089981" stroke-width="0.95"/>
<rect x="531.17" y="310.85" width="2.1" height="4.23" fill="#089981"/>
<line x1="534.74" y1="304.37" x2="534.74" y2="310.00" stroke="#089981" stroke-width="0.95"/>
<rect x="533.69" y="305.12" width="2.1" height="3.83" fill="#089981"/>
<line x1="537.41" y1="304.81" x2="537.41" y2="310.00" stroke="#F23645" stroke-width="0.95"/>
<rect x="536.36" y="305.57" width="2.1" height="3.53" fill="#F23645"/>
<line x1="539.93" y1="306.74" x2="539.93" y2="309.70" stroke="#089981" stroke-width="0.95"/>
<rect x="538.88" y="307.04" width="2.1" height="2.36" fill="#089981"/>
<line x1="542.44" y1="306.30" x2="542.44" y2="309.26" stroke="#F23645" stroke-width="0.95"/>
<rect x="541.39" y="306.60" width="2.1" height="2.36" fill="#F23645"/>
<line x1="544.96" y1="304.81" x2="544.96" y2="311.48" stroke="#F23645" stroke-width="0.95"/>
<rect x="543.91" y="305.96" width="2.1" height="4.53" fill="#F23645"/>
<line x1="547.48" y1="308.81" x2="547.48" y2="314.15" stroke="#089981" stroke-width="0.95"/>
<rect x="546.43" y="308.93" width="2.1" height="3.63" fill="#089981"/>
<line x1="550.00" y1="305.26" x2="550.00" y2="309.26" stroke="#F23645" stroke-width="0.95"/>
<rect x="548.95" y="305.68" width="2.1" height="2.72" fill="#F23645"/>
<line x1="552.52" y1="307.04" x2="552.52" y2="310.30" stroke="#F23645" stroke-width="0.95"/>
<rect x="551.47" y="307.34" width="2.1" height="2.66" fill="#F23645"/>
<line x1="555.19" y1="308.81" x2="555.19" y2="311.78" stroke="#F23645" stroke-width="0.95"/>
<rect x="554.14" y="309.11" width="2.1" height="2.36" fill="#F23645"/>
<line x1="557.70" y1="308.22" x2="557.70" y2="310.74" stroke="#F23645" stroke-width="0.95"/>
<rect x="556.65" y="308.52" width="2.1" height="1.92" fill="#F23645"/>
<line x1="560.22" y1="308.81" x2="560.22" y2="312.67" stroke="#F23645" stroke-width="0.95"/>
<rect x="559.17" y="309.43" width="2.1" height="2.62" fill="#F23645"/>
<line x1="562.74" y1="308.81" x2="562.74" y2="311.78" stroke="#089981" stroke-width="0.95"/>
<rect x="561.69" y="309.11" width="2.1" height="2.36" fill="#089981"/>
<line x1="565.26" y1="308.22" x2="565.26" y2="311.78" stroke="#F23645" stroke-width="0.95"/>
<rect x="564.21" y="308.79" width="2.1" height="2.42" fill="#F23645"/>
<line x1="567.78" y1="310.74" x2="567.78" y2="313.70" stroke="#F23645" stroke-width="0.95"/>
<rect x="566.73" y="311.04" width="2.1" height="2.36" fill="#F23645"/>
<line x1="570.30" y1="310.74" x2="570.30" y2="313.70" stroke="#089981" stroke-width="0.95"/>
<rect x="569.25" y="311.04" width="2.1" height="2.36" fill="#089981"/>
<line x1="572.96" y1="307.78" x2="572.96" y2="312.96" stroke="#089981" stroke-width="0.95"/>
<rect x="571.91" y="308.24" width="2.1" height="3.53" fill="#089981"/>
<line x1="575.63" y1="315.19" x2="575.63" y2="320.07" stroke="#F23645" stroke-width="0.95"/>
<rect x="574.58" y="315.75" width="2.1" height="3.32" fill="#F23645"/>
<line x1="578.15" y1="313.70" x2="578.15" y2="317.11" stroke="#F23645" stroke-width="0.95"/>
<rect x="577.10" y="314.03" width="2.1" height="2.32" fill="#F23645"/>
<line x1="580.67" y1="314.74" x2="580.67" y2="317.70" stroke="#F23645" stroke-width="0.95"/>
<rect x="579.62" y="315.04" width="2.1" height="2.36" fill="#F23645"/>
<line x1="583.33" y1="313.70" x2="583.33" y2="316.22" stroke="#089981" stroke-width="0.95"/>
<rect x="582.28" y="314.00" width="2.1" height="1.92" fill="#089981"/>
<line x1="585.85" y1="300.37" x2="585.85" y2="305.56" stroke="#089981" stroke-width="0.95"/>
<rect x="584.80" y="300.83" width="2.1" height="3.53" fill="#089981"/>
<line x1="588.37" y1="292.96" x2="588.37" y2="301.11" stroke="#089981" stroke-width="0.95"/>
<rect x="587.32" y="293.90" width="2.1" height="5.54" fill="#089981"/>
<line x1="590.89" y1="288.07" x2="590.89" y2="293.70" stroke="#089981" stroke-width="0.95"/>
<rect x="589.84" y="288.83" width="2.1" height="3.83" fill="#089981"/>
<line x1="593.41" y1="286.00" x2="593.41" y2="290.44" stroke="#F23645" stroke-width="0.95"/>
<rect x="592.36" y="286.56" width="2.1" height="3.02" fill="#F23645"/>
<line x1="595.93" y1="287.04" x2="595.93" y2="291.48" stroke="#089981" stroke-width="0.95"/>
<rect x="594.88" y="287.75" width="2.1" height="3.02" fill="#089981"/>
<line x1="598.44" y1="286.30" x2="598.44" y2="290.74" stroke="#F23645" stroke-width="0.95"/>
<rect x="597.39" y="287.01" width="2.1" height="3.02" fill="#F23645"/>
<line x1="601.11" y1="288.96" x2="601.11" y2="292.96" stroke="#F23645" stroke-width="0.95"/>
<rect x="600.06" y="289.38" width="2.1" height="2.72" fill="#F23645"/>
<line x1="603.63" y1="294.44" x2="603.63" y2="298.89" stroke="#F23645" stroke-width="0.95"/>
<rect x="602.58" y="295.16" width="2.1" height="3.02" fill="#F23645"/>
<line x1="606.30" y1="293.70" x2="606.30" y2="297.41" stroke="#089981" stroke-width="0.95"/>
<rect x="605.25" y="294.22" width="2.1" height="2.52" fill="#089981"/>
<line x1="608.81" y1="289.26" x2="608.81" y2="296.37" stroke="#089981" stroke-width="0.95"/>
<rect x="607.76" y="290.55" width="2.1" height="4.84" fill="#089981"/>
<line x1="611.41" y1="286.37" x2="611.41" y2="290.37" stroke="#F23645" stroke-width="0.95"/>
<rect x="610.36" y="286.79" width="2.1" height="2.72" fill="#F23645"/>
<line x1="614.07" y1="280.00" x2="614.07" y2="285.48" stroke="#089981" stroke-width="0.95"/>
<rect x="613.02" y="281.10" width="2.1" height="3.73" fill="#089981"/>
<line x1="616.59" y1="281.93" x2="616.59" y2="285.93" stroke="#F23645" stroke-width="0.95"/>
<rect x="615.54" y="282.34" width="2.1" height="2.72" fill="#F23645"/>
<line x1="619.11" y1="281.48" x2="619.11" y2="291.41" stroke="#F23645" stroke-width="0.95"/>
<rect x="618.06" y="283.00" width="2.1" height="6.75" fill="#F23645"/>
<line x1="621.63" y1="285.19" x2="621.63" y2="290.37" stroke="#089981" stroke-width="0.95"/>
<rect x="620.58" y="286.09" width="2.1" height="3.53" fill="#089981"/>
<line x1="624.15" y1="290.37" x2="624.15" y2="298.81" stroke="#F23645" stroke-width="0.95"/>
<rect x="623.10" y="291.20" width="2.1" height="5.74" fill="#F23645"/>
<line x1="626.67" y1="294.07" x2="626.67" y2="297.33" stroke="#089981" stroke-width="0.95"/>
<rect x="625.62" y="294.37" width="2.1" height="2.66" fill="#089981"/>
<line x1="629.19" y1="295.26" x2="629.19" y2="299.70" stroke="#F23645" stroke-width="0.95"/>
<rect x="628.14" y="295.53" width="2.1" height="3.02" fill="#F23645"/>
<line x1="631.70" y1="297.78" x2="631.70" y2="303.26" stroke="#089981" stroke-width="0.95"/>
<rect x="630.65" y="297.84" width="2.1" height="3.73" fill="#089981"/>
<line x1="634.37" y1="288.89" x2="634.37" y2="293.33" stroke="#089981" stroke-width="0.95"/>
<rect x="633.32" y="289.60" width="2.1" height="3.02" fill="#089981"/>
<line x1="636.89" y1="289.33" x2="636.89" y2="293.78" stroke="#F23645" stroke-width="0.95"/>
<rect x="635.84" y="289.90" width="2.1" height="3.02" fill="#F23645"/>
<line x1="639.41" y1="284.44" x2="639.41" y2="292.89" stroke="#089981" stroke-width="0.95"/>
<rect x="638.36" y="286.02" width="2.1" height="5.74" fill="#089981"/>
<line x1="641.93" y1="276.59" x2="641.93" y2="289.63" stroke="#F23645" stroke-width="0.95"/>
<rect x="640.88" y="280.00" width="2.1" height="9.48" fill="#F23645"/>
<line x1="644.44" y1="305.19" x2="644.44" y2="314.52" stroke="#089981" stroke-width="0.95"/>
<rect x="643.39" y="305.19" width="2.1" height="6.14" fill="#089981"/>
<line x1="646.96" y1="300.30" x2="646.96" y2="309.63" stroke="#089981" stroke-width="0.95"/>
<rect x="645.91" y="302.01" width="2.1" height="6.35" fill="#089981"/>
<line x1="649.48" y1="305.19" x2="649.48" y2="310.07" stroke="#F23645" stroke-width="0.95"/>
<rect x="648.43" y="305.75" width="2.1" height="3.32" fill="#F23645"/>
<line x1="652.00" y1="308.15" x2="652.00" y2="313.33" stroke="#F23645" stroke-width="0.95"/>
<rect x="650.95" y="308.61" width="2.1" height="3.53" fill="#F23645"/>
<line x1="654.52" y1="310.37" x2="654.52" y2="315.11" stroke="#F23645" stroke-width="0.95"/>
<rect x="653.47" y="310.98" width="2.1" height="3.22" fill="#F23645"/>
<line x1="657.04" y1="311.85" x2="657.04" y2="317.04" stroke="#F23645" stroke-width="0.95"/>
<rect x="655.99" y="312.76" width="2.1" height="3.53" fill="#F23645"/>
<line x1="659.70" y1="315.11" x2="659.70" y2="322.96" stroke="#F23645" stroke-width="0.95"/>
<rect x="658.65" y="315.85" width="2.1" height="5.34" fill="#F23645"/>
<line x1="662.22" y1="315.11" x2="662.22" y2="320.44" stroke="#089981" stroke-width="0.95"/>
<rect x="661.17" y="315.96" width="2.1" height="3.63" fill="#089981"/>
<line x1="664.74" y1="315.11" x2="664.74" y2="322.22" stroke="#089981" stroke-width="0.95"/>
<rect x="663.69" y="316.10" width="2.1" height="4.84" fill="#089981"/>
<line x1="667.41" y1="316.30" x2="667.41" y2="320.74" stroke="#F23645" stroke-width="0.95"/>
<rect x="666.36" y="317.01" width="2.1" height="3.02" fill="#F23645"/>
<line x1="669.93" y1="314.52" x2="669.93" y2="317.78" stroke="#089981" stroke-width="0.95"/>
<rect x="668.88" y="314.82" width="2.1" height="2.66" fill="#089981"/>
<line x1="672.44" y1="312.59" x2="672.44" y2="316.30" stroke="#089981" stroke-width="0.95"/>
<rect x="671.39" y="313.26" width="2.1" height="2.52" fill="#089981"/>
<line x1="674.96" y1="315.11" x2="674.96" y2="319.56" stroke="#F23645" stroke-width="0.95"/>
<rect x="673.91" y="315.53" width="2.1" height="3.02" fill="#F23645"/>
<line x1="677.63" y1="319.26" x2="677.63" y2="323.41" stroke="#089981" stroke-width="0.95"/>
<rect x="676.58" y="319.63" width="2.1" height="2.82" fill="#089981"/>
<line x1="680.15" y1="318.96" x2="680.15" y2="321.93" stroke="#F23645" stroke-width="0.95"/>
<rect x="679.10" y="319.26" width="2.1" height="2.36" fill="#F23645"/>
<line x1="682.67" y1="318.52" x2="682.67" y2="322.52" stroke="#F23645" stroke-width="0.95"/>
<rect x="681.62" y="319.08" width="2.1" height="2.72" fill="#F23645"/>
<line x1="685.19" y1="319.56" x2="685.19" y2="322.52" stroke="#F23645" stroke-width="0.95"/>
<rect x="684.14" y="319.86" width="2.1" height="2.36" fill="#F23645"/>
<line x1="687.85" y1="319.26" x2="687.85" y2="322.96" stroke="#F23645" stroke-width="0.95"/>
<rect x="686.80" y="319.78" width="2.1" height="2.52" fill="#F23645"/>
<line x1="690.37" y1="322.22" x2="690.37" y2="328.15" stroke="#F23645" stroke-width="0.95"/>
<rect x="689.32" y="323.17" width="2.1" height="4.03" fill="#F23645"/>
<line x1="692.89" y1="325.19" x2="692.89" y2="328.15" stroke="#089981" stroke-width="0.95"/>
<rect x="691.84" y="325.49" width="2.1" height="2.36" fill="#089981"/>
<line x1="695.56" y1="331.85" x2="695.56" y2="338.52" stroke="#F23645" stroke-width="0.95"/>
<rect x="694.51" y="332.99" width="2.1" height="4.53" fill="#F23645"/>
<line x1="698.07" y1="338.52" x2="698.07" y2="340.89" stroke="#089981" stroke-width="0.95"/>
<rect x="697.02" y="338.82" width="2.1" height="1.77" fill="#089981"/>
<line x1="700.74" y1="334.07" x2="700.74" y2="338.52" stroke="#F23645" stroke-width="0.95"/>
<rect x="699.69" y="334.79" width="2.1" height="3.02" fill="#F23645"/>
<line x1="703.26" y1="331.41" x2="703.26" y2="334.37" stroke="#F23645" stroke-width="0.95"/>
<rect x="702.21" y="331.71" width="2.1" height="2.36" fill="#F23645"/>
<line x1="705.78" y1="329.63" x2="705.78" y2="332.59" stroke="#F23645" stroke-width="0.95"/>
<rect x="704.73" y="329.93" width="2.1" height="2.36" fill="#F23645"/>
<line x1="708.30" y1="326.37" x2="708.30" y2="329.93" stroke="#F23645" stroke-width="0.95"/>
<rect x="707.25" y="326.94" width="2.1" height="2.42" fill="#F23645"/>
<line x1="710.81" y1="311.56" x2="710.81" y2="325.93" stroke="#089981" stroke-width="0.95"/>
<rect x="709.76" y="311.85" width="2.1" height="13.78" fill="#089981"/>
<line x1="713.48" y1="285.93" x2="713.48" y2="300.74" stroke="#F23645" stroke-width="0.95"/>
<rect x="712.43" y="286.67" width="2.1" height="10.67" fill="#F23645"/>
<line x1="716.00" y1="293.78" x2="716.00" y2="300.30" stroke="#089981" stroke-width="0.95"/>
<rect x="714.95" y="294.82" width="2.1" height="4.43" fill="#089981"/>
<line x1="718.52" y1="289.63" x2="718.52" y2="299.26" stroke="#F23645" stroke-width="0.95"/>
<rect x="717.47" y="291.10" width="2.1" height="6.55" fill="#F23645"/>
<line x1="721.04" y1="313.33" x2="721.04" y2="340.74" stroke="#F23645" stroke-width="0.95"/>
<rect x="719.99" y="318.07" width="2.1" height="16.00" fill="#F23645"/>
<line x1="723.56" y1="322.22" x2="723.56" y2="334.81" stroke="#089981" stroke-width="0.95"/>
<rect x="722.51" y="323.87" width="2.1" height="8.56" fill="#089981"/>
<line x1="726.07" y1="325.19" x2="726.07" y2="330.37" stroke="#F23645" stroke-width="0.95"/>
<rect x="725.02" y="325.64" width="2.1" height="3.53" fill="#F23645"/>
<line x1="728.74" y1="314.52" x2="728.74" y2="324.00" stroke="#089981" stroke-width="0.95"/>
<rect x="727.69" y="316.04" width="2.1" height="6.45" fill="#089981"/>
<line x1="731.26" y1="312.59" x2="731.26" y2="317.78" stroke="#F23645" stroke-width="0.95"/>
<rect x="730.21" y="313.35" width="2.1" height="3.53" fill="#F23645"/>
<line x1="733.78" y1="317.04" x2="733.78" y2="326.37" stroke="#089981" stroke-width="0.95"/>
<rect x="732.73" y="318.31" width="2.1" height="6.35" fill="#089981"/>
<line x1="736.30" y1="316.30" x2="736.30" y2="320.74" stroke="#F23645" stroke-width="0.95"/>
<rect x="735.25" y="317.01" width="2.1" height="3.02" fill="#F23645"/>
<line x1="738.81" y1="314.07" x2="738.81" y2="318.07" stroke="#089981" stroke-width="0.95"/>
<rect x="737.76" y="314.64" width="2.1" height="2.72" fill="#089981"/>
<line x1="741.33" y1="309.63" x2="741.33" y2="313.63" stroke="#F23645" stroke-width="0.95"/>
<rect x="740.28" y="310.49" width="2.1" height="2.72" fill="#F23645"/>
<line x1="743.85" y1="306.22" x2="743.85" y2="310.37" stroke="#F23645" stroke-width="0.95"/>
<rect x="742.80" y="306.74" width="2.1" height="2.82" fill="#F23645"/>
<line x1="746.37" y1="302.67" x2="746.37" y2="308.89" stroke="#089981" stroke-width="0.95"/>
<rect x="745.32" y="303.51" width="2.1" height="4.23" fill="#089981"/>
<line x1="749.04" y1="303.70" x2="749.04" y2="307.11" stroke="#F23645" stroke-width="0.95"/>
<rect x="747.99" y="304.03" width="2.1" height="2.32" fill="#F23645"/>
<line x1="751.56" y1="309.63" x2="751.56" y2="314.81" stroke="#F23645" stroke-width="0.95"/>
<rect x="750.51" y="310.09" width="2.1" height="3.53" fill="#F23645"/>
<line x1="754.07" y1="310.37" x2="754.07" y2="313.33" stroke="#089981" stroke-width="0.95"/>
<rect x="753.02" y="310.67" width="2.1" height="2.36" fill="#089981"/>
<line x1="756.59" y1="309.63" x2="756.59" y2="312.15" stroke="#F23645" stroke-width="0.95"/>
<rect x="755.54" y="309.93" width="2.1" height="1.92" fill="#F23645"/>
<line x1="759.26" y1="299.26" x2="759.26" y2="307.41" stroke="#089981" stroke-width="0.95"/>
<rect x="758.21" y="300.93" width="2.1" height="5.54" fill="#089981"/>
<line x1="761.70" y1="299.63" x2="761.70" y2="307.78" stroke="#089981" stroke-width="0.95"/>
<rect x="760.65" y="300.86" width="2.1" height="5.54" fill="#089981"/>
<line x1="764.22" y1="301.85" x2="764.22" y2="310.00" stroke="#F23645" stroke-width="0.95"/>
<rect x="763.17" y="302.79" width="2.1" height="5.54" fill="#F23645"/>
<line x1="766.74" y1="307.04" x2="766.74" y2="320.37" stroke="#F23645" stroke-width="0.95"/>
<rect x="765.69" y="308.43" width="2.1" height="9.07" fill="#F23645"/>
<line x1="769.26" y1="310.74" x2="769.26" y2="324.07" stroke="#F23645" stroke-width="0.95"/>
<rect x="768.21" y="312.13" width="2.1" height="9.07" fill="#F23645"/>
<line x1="771.93" y1="315.19" x2="771.93" y2="324.81" stroke="#F23645" stroke-width="0.95"/>
<rect x="770.88" y="316.36" width="2.1" height="6.55" fill="#F23645"/>
<line x1="774.44" y1="310.74" x2="774.44" y2="317.85" stroke="#089981" stroke-width="0.95"/>
<rect x="773.39" y="311.29" width="2.1" height="4.84" fill="#089981"/>
<line x1="776.96" y1="310.00" x2="776.96" y2="324.81" stroke="#F23645" stroke-width="0.95"/>
<rect x="775.91" y="311.63" width="2.1" height="10.07" fill="#F23645"/>
<line x1="779.63" y1="321.85" x2="779.63" y2="330.00" stroke="#089981" stroke-width="0.95"/>
<rect x="778.58" y="322.79" width="2.1" height="5.54" fill="#089981"/>
<line x1="782.15" y1="320.37" x2="782.15" y2="329.26" stroke="#F23645" stroke-width="0.95"/>
<rect x="781.10" y="321.79" width="2.1" height="6.04" fill="#F23645"/>
<line x1="784.67" y1="330.74" x2="784.67" y2="339.63" stroke="#F23645" stroke-width="0.95"/>
<rect x="783.62" y="330.74" width="2.1" height="5.99" fill="#F23645"/>
<line x1="787.33" y1="326.74" x2="787.33" y2="334.44" stroke="#089981" stroke-width="0.95"/>
<rect x="786.28" y="327.38" width="2.1" height="5.24" fill="#089981"/>
<line x1="789.85" y1="334.44" x2="789.85" y2="344.81" stroke="#F23645" stroke-width="0.95"/>
<rect x="788.80" y="336.10" width="2.1" height="7.05" fill="#F23645"/>
<line x1="792.37" y1="335.19" x2="792.37" y2="346.30" stroke="#089981" stroke-width="0.95"/>
<rect x="791.32" y="336.59" width="2.1" height="7.56" fill="#089981"/>
<line x1="794.89" y1="341.11" x2="794.89" y2="348.52" stroke="#F23645" stroke-width="0.95"/>
<rect x="793.84" y="341.56" width="2.1" height="5.04" fill="#F23645"/>
<line x1="797.56" y1="350.74" x2="797.56" y2="361.85" stroke="#089981" stroke-width="0.95"/>
<rect x="796.51" y="350.74" width="2.1" height="3.26" fill="#089981"/>
<line x1="800.07" y1="341.56" x2="800.07" y2="351.04" stroke="#089981" stroke-width="0.95"/>
<rect x="799.02" y="342.78" width="2.1" height="6.45" fill="#089981"/>
<line x1="802.59" y1="344.81" x2="802.59" y2="351.04" stroke="#F23645" stroke-width="0.95"/>
<rect x="801.54" y="344.92" width="2.1" height="4.23" fill="#F23645"/>
<line x1="805.11" y1="343.63" x2="805.11" y2="347.48" stroke="#089981" stroke-width="0.95"/>
<rect x="804.06" y="344.25" width="2.1" height="2.62" fill="#089981"/>
<line x1="807.78" y1="336.22" x2="807.78" y2="344.07" stroke="#089981" stroke-width="0.95"/>
<rect x="806.73" y="337.70" width="2.1" height="5.34" fill="#089981"/>
<line x1="810.30" y1="341.11" x2="810.30" y2="346.59" stroke="#F23645" stroke-width="0.95"/>
<rect x="809.25" y="341.47" width="2.1" height="3.73" fill="#F23645"/>
<line x1="812.81" y1="338.89" x2="812.81" y2="344.81" stroke="#089981" stroke-width="0.95"/>
<rect x="811.76" y="339.84" width="2.1" height="4.03" fill="#089981"/>
<line x1="815.33" y1="338.15" x2="815.33" y2="344.07" stroke="#089981" stroke-width="0.95"/>
<rect x="814.28" y="339.10" width="2.1" height="4.03" fill="#089981"/>
<line x1="818.00" y1="339.63" x2="818.00" y2="344.07" stroke="#089981" stroke-width="0.95"/>
<rect x="816.95" y="340.04" width="2.1" height="3.02" fill="#089981"/>
<line x1="820.52" y1="335.19" x2="820.52" y2="338.15" stroke="#F23645" stroke-width="0.95"/>
<rect x="819.47" y="335.49" width="2.1" height="2.36" fill="#F23645"/>
<line x1="823.04" y1="335.93" x2="823.04" y2="339.19" stroke="#F23645" stroke-width="0.95"/>
<rect x="821.99" y="336.23" width="2.1" height="2.66" fill="#F23645"/>
<line x1="825.56" y1="340.07" x2="825.56" y2="349.26" stroke="#F23645" stroke-width="0.95"/>
<rect x="824.51" y="340.95" width="2.1" height="6.25" fill="#F23645"/>
<line x1="828.22" y1="348.52" x2="828.22" y2="351.48" stroke="#F23645" stroke-width="0.95"/>
<rect x="827.17" y="348.82" width="2.1" height="2.36" fill="#F23645"/>
<line x1="830.74" y1="349.26" x2="830.74" y2="359.63" stroke="#F23645" stroke-width="0.95"/>
<rect x="829.69" y="350.18" width="2.1" height="7.05" fill="#F23645"/>
<line x1="833.26" y1="357.41" x2="833.26" y2="362.59" stroke="#089981" stroke-width="0.95"/>
<rect x="832.21" y="357.87" width="2.1" height="3.53" fill="#089981"/>
<line x1="835.78" y1="353.70" x2="835.78" y2="360.81" stroke="#089981" stroke-width="0.95"/>
<rect x="834.73" y="354.99" width="2.1" height="4.84" fill="#089981"/>
<line x1="838.30" y1="347.78" x2="838.30" y2="359.63" stroke="#089981" stroke-width="0.95"/>
<rect x="837.25" y="349.67" width="2.1" height="8.06" fill="#089981"/>
<line x1="840.81" y1="356.67" x2="840.81" y2="363.33" stroke="#F23645" stroke-width="0.95"/>
<rect x="839.76" y="357.36" width="2.1" height="4.53" fill="#F23645"/>
<line x1="843.48" y1="367.04" x2="843.48" y2="376.67" stroke="#F23645" stroke-width="0.95"/>
<rect x="842.43" y="368.21" width="2.1" height="6.55" fill="#F23645"/>
<line x1="846.00" y1="367.04" x2="846.00" y2="388.96" stroke="#089981" stroke-width="0.95"/>
<rect x="844.95" y="370.00" width="2.1" height="14.81" fill="#089981"/>
<line x1="848.52" y1="369.26" x2="848.52" y2="384.81" stroke="#F23645" stroke-width="0.95"/>
<rect x="847.47" y="371.38" width="2.1" height="10.58" fill="#F23645"/>
<line x1="851.04" y1="358.15" x2="851.04" y2="383.04" stroke="#089981" stroke-width="0.95"/>
<rect x="849.99" y="359.63" width="2.1" height="22.22" fill="#089981"/>
<line x1="853.70" y1="363.33" x2="853.70" y2="370.74" stroke="#F23645" stroke-width="0.95"/>
<rect x="852.65" y="363.78" width="2.1" height="5.04" fill="#F23645"/>
<line x1="856.22" y1="368.52" x2="856.22" y2="373.70" stroke="#089981" stroke-width="0.95"/>
<rect x="855.17" y="368.98" width="2.1" height="3.53" fill="#089981"/>
<line x1="858.74" y1="362.59" x2="858.74" y2="367.78" stroke="#F23645" stroke-width="0.95"/>
<rect x="857.69" y="363.05" width="2.1" height="3.53" fill="#F23645"/>
<line x1="861.26" y1="363.78" x2="861.26" y2="367.78" stroke="#F23645" stroke-width="0.95"/>
<rect x="860.21" y="364.20" width="2.1" height="2.72" fill="#F23645"/>
<line x1="863.93" y1="368.52" x2="863.93" y2="374.74" stroke="#F23645" stroke-width="0.95"/>
<rect x="862.88" y="368.63" width="2.1" height="4.23" fill="#F23645"/>
<line x1="866.44" y1="370.00" x2="866.44" y2="375.19" stroke="#F23645" stroke-width="0.95"/>
<rect x="865.39" y="370.46" width="2.1" height="3.53" fill="#F23645"/>
<line x1="868.96" y1="376.67" x2="868.96" y2="384.81" stroke="#F23645" stroke-width="0.95"/>
<rect x="867.91" y="377.60" width="2.1" height="5.54" fill="#F23645"/>
<line x1="871.48" y1="375.19" x2="871.48" y2="381.85" stroke="#089981" stroke-width="0.95"/>
<rect x="870.43" y="376.33" width="2.1" height="4.53" fill="#089981"/>
<line x1="874.15" y1="364.81" x2="874.15" y2="371.19" stroke="#F23645" stroke-width="0.95"/>
<rect x="873.10" y="365.61" width="2.1" height="4.33" fill="#F23645"/>
<line x1="876.67" y1="361.85" x2="876.67" y2="369.26" stroke="#089981" stroke-width="0.95"/>
<rect x="875.62" y="362.30" width="2.1" height="5.04" fill="#089981"/>
<line x1="879.19" y1="360.37" x2="879.19" y2="363.78" stroke="#089981" stroke-width="0.95"/>
<rect x="878.14" y="360.69" width="2.1" height="2.32" fill="#089981"/>
<line x1="881.70" y1="357.85" x2="881.70" y2="360.37" stroke="#089981" stroke-width="0.95"/>
<rect x="880.65" y="358.15" width="2.1" height="1.92" fill="#089981"/>
<line x1="884.22" y1="356.96" x2="884.22" y2="359.33" stroke="#089981" stroke-width="0.95"/>
<rect x="883.17" y="357.26" width="2.1" height="1.77" fill="#089981"/>
<line x1="886.89" y1="357.41" x2="886.89" y2="364.81" stroke="#089981" stroke-width="0.95"/>
<rect x="885.84" y="357.41" width="2.1" height="4.74" fill="#089981"/>
<line x1="889.41" y1="346.30" x2="889.41" y2="351.48" stroke="#F23645" stroke-width="0.95"/>
<rect x="888.36" y="347.50" width="2.1" height="3.53" fill="#F23645"/>
<line x1="891.93" y1="340.37" x2="891.93" y2="347.78" stroke="#089981" stroke-width="0.95"/>
<rect x="890.88" y="342.30" width="2.1" height="5.04" fill="#089981"/>
<line x1="894.44" y1="343.63" x2="894.44" y2="346.59" stroke="#F23645" stroke-width="0.95"/>
<rect x="893.39" y="343.93" width="2.1" height="2.36" fill="#F23645"/>
<line x1="897.11" y1="345.56" x2="897.11" y2="350.44" stroke="#089981" stroke-width="0.95"/>
<rect x="896.06" y="346.12" width="2.1" height="3.32" fill="#089981"/>
<line x1="899.63" y1="344.81" x2="899.63" y2="348.07" stroke="#089981" stroke-width="0.95"/>
<rect x="898.58" y="345.11" width="2.1" height="2.66" fill="#089981"/>
<line x1="902.15" y1="343.63" x2="902.15" y2="346.59" stroke="#089981" stroke-width="0.95"/>
<rect x="901.10" y="343.93" width="2.1" height="2.36" fill="#089981"/>
<line x1="904.67" y1="341.85" x2="904.67" y2="345.56" stroke="#089981" stroke-width="0.95"/>
<rect x="903.62" y="342.37" width="2.1" height="2.52" fill="#089981"/>
<line x1="907.30" y1="334.07" x2="907.30" y2="338.52" stroke="#089981" stroke-width="0.95"/>
<rect x="906.25" y="334.79" width="2.1" height="3.02" fill="#089981"/>
<line x1="909.81" y1="325.93" x2="909.81" y2="334.07" stroke="#089981" stroke-width="0.95"/>
<rect x="908.76" y="326.86" width="2.1" height="5.54" fill="#089981"/>
<line x1="912.48" y1="325.63" x2="912.48" y2="328.59" stroke="#089981" stroke-width="0.95"/>
<rect x="911.43" y="325.93" width="2.1" height="2.36" fill="#089981"/>
<line x1="915.00" y1="328.59" x2="915.00" y2="331.85" stroke="#F23645" stroke-width="0.95"/>
<rect x="913.95" y="328.89" width="2.1" height="2.66" fill="#F23645"/>
<line x1="917.52" y1="328.89" x2="917.52" y2="332.15" stroke="#089981" stroke-width="0.95"/>
<rect x="916.47" y="329.19" width="2.1" height="2.66" fill="#089981"/>
<line x1="920.04" y1="328.59" x2="920.04" y2="333.33" stroke="#089981" stroke-width="0.95"/>
<rect x="918.99" y="329.05" width="2.1" height="3.22" fill="#089981"/>
<line x1="922.56" y1="330.67" x2="922.56" y2="334.07" stroke="#089981" stroke-width="0.95"/>
<rect x="921.51" y="330.99" width="2.1" height="2.32" fill="#089981"/>
<line x1="925.07" y1="328.89" x2="925.07" y2="334.81" stroke="#F23645" stroke-width="0.95"/>
<rect x="924.02" y="329.84" width="2.1" height="4.03" fill="#F23645"/>
<line x1="927.74" y1="331.85" x2="927.74" y2="335.11" stroke="#F23645" stroke-width="0.95"/>
<rect x="926.69" y="332.15" width="2.1" height="2.66" fill="#F23645"/>
<line x1="930.26" y1="334.81" x2="930.26" y2="338.07" stroke="#089981" stroke-width="0.95"/>
<rect x="929.21" y="335.11" width="2.1" height="2.66" fill="#089981"/>
<line x1="932.78" y1="327.41" x2="932.78" y2="331.85" stroke="#089981" stroke-width="0.95"/>
<rect x="931.73" y="328.12" width="2.1" height="3.02" fill="#089981"/>
<line x1="935.30" y1="324.44" x2="935.30" y2="327.70" stroke="#089981" stroke-width="0.95"/>
<rect x="934.25" y="324.74" width="2.1" height="2.66" fill="#089981"/>
<line x1="937.96" y1="322.67" x2="937.96" y2="328.15" stroke="#F23645" stroke-width="0.95"/>
<rect x="936.91" y="323.32" width="2.1" height="3.73" fill="#F23645"/>
<line x1="940.48" y1="322.67" x2="940.48" y2="326.67" stroke="#089981" stroke-width="0.95"/>
<rect x="939.43" y="323.08" width="2.1" height="2.72" fill="#089981"/>
<line x1="943.00" y1="320.74" x2="943.00" y2="327.41" stroke="#089981" stroke-width="0.95"/>
<rect x="941.95" y="321.44" width="2.1" height="4.53" fill="#089981"/>
<line x1="945.52" y1="317.78" x2="945.52" y2="322.22" stroke="#089981" stroke-width="0.95"/>
<rect x="944.47" y="318.49" width="2.1" height="3.02" fill="#089981"/>
<line x1="948.04" y1="316.30" x2="948.04" y2="319.70" stroke="#F23645" stroke-width="0.95"/>
<rect x="946.99" y="316.62" width="2.1" height="2.32" fill="#F23645"/>
<line x1="950.70" y1="313.33" x2="950.70" y2="318.52" stroke="#089981" stroke-width="0.95"/>
<rect x="949.65" y="314.53" width="2.1" height="3.53" fill="#089981"/>
<line x1="953.22" y1="309.33" x2="953.22" y2="312.89" stroke="#089981" stroke-width="0.95"/>
<rect x="952.17" y="309.90" width="2.1" height="2.42" fill="#089981"/>
<line x1="955.74" y1="304.00" x2="955.74" y2="311.11" stroke="#089981" stroke-width="0.95"/>
<rect x="954.69" y="304.99" width="2.1" height="4.84" fill="#089981"/>
<line x1="958.41" y1="305.93" x2="958.41" y2="310.37" stroke="#F23645" stroke-width="0.95"/>
<rect x="957.36" y="306.34" width="2.1" height="3.02" fill="#F23645"/>
<line x1="960.93" y1="302.96" x2="960.93" y2="308.44" stroke="#F23645" stroke-width="0.95"/>
<rect x="959.88" y="304.06" width="2.1" height="3.73" fill="#F23645"/>
<line x1="963.44" y1="271.11" x2="963.44" y2="290.07" stroke="#089981" stroke-width="0.95"/>
<rect x="962.39" y="271.56" width="2.1" height="18.07" fill="#089981"/>
<line x1="965.96" y1="251.11" x2="965.96" y2="272.30" stroke="#089981" stroke-width="0.95"/>
<rect x="964.91" y="251.56" width="2.1" height="20.30" fill="#089981"/>
<line x1="968.48" y1="253.04" x2="968.48" y2="260.00" stroke="#F23645" stroke-width="0.95"/>
<rect x="967.43" y="253.93" width="2.1" height="4.73" fill="#F23645"/>
<line x1="971.00" y1="252.59" x2="971.00" y2="263.70" stroke="#F23645" stroke-width="0.95"/>
<rect x="969.95" y="254.74" width="2.1" height="7.56" fill="#F23645"/>
<line x1="973.67" y1="254.07" x2="973.67" y2="260.00" stroke="#F23645" stroke-width="0.95"/>
<rect x="972.62" y="255.02" width="2.1" height="4.03" fill="#F23645"/>
<line x1="976.19" y1="254.52" x2="976.19" y2="267.85" stroke="#F23645" stroke-width="0.95"/>
<rect x="975.14" y="256.21" width="2.1" height="9.07" fill="#F23645"/>
<line x1="978.70" y1="264.44" x2="978.70" y2="270.37" stroke="#089981" stroke-width="0.95"/>
<rect x="977.65" y="264.65" width="2.1" height="4.03" fill="#089981"/>
<line x1="981.22" y1="251.11" x2="981.22" y2="262.22" stroke="#089981" stroke-width="0.95"/>
<rect x="980.17" y="252.22" width="2.1" height="7.56" fill="#089981"/>
<line x1="983.89" y1="250.37" x2="983.89" y2="260.00" stroke="#F23645" stroke-width="0.95"/>
<rect x="982.84" y="251.54" width="2.1" height="6.55" fill="#F23645"/>
<line x1="986.41" y1="254.07" x2="986.41" y2="258.52" stroke="#089981" stroke-width="0.95"/>
<rect x="985.36" y="254.79" width="2.1" height="3.02" fill="#089981"/>
<line x1="988.93" y1="254.07" x2="988.93" y2="260.74" stroke="#F23645" stroke-width="0.95"/>
<rect x="987.88" y="254.77" width="2.1" height="4.53" fill="#F23645"/>
<line x1="991.67" y1="234.44" x2="991.67" y2="248.33" stroke="#F23645" stroke-width="0.95"/>
<rect x="990.62" y="236.94" width="2.1" height="9.44" fill="#F23645"/>
<line x1="994.22" y1="242.22" x2="994.22" y2="251.11" stroke="#F23645" stroke-width="0.95"/>
<rect x="993.17" y="243.64" width="2.1" height="6.04" fill="#F23645"/>
<line x1="996.78" y1="230.00" x2="996.78" y2="250.56" stroke="#089981" stroke-width="0.95"/>
<rect x="995.73" y="233.57" width="2.1" height="13.98" fill="#089981"/>
<line x1="999.33" y1="221.11" x2="999.33" y2="230.56" stroke="#089981" stroke-width="0.95"/>
<rect x="998.28" y="221.79" width="2.1" height="6.42" fill="#089981"/>
<line x1="1001.89" y1="224.44" x2="1001.89" y2="232.22" stroke="#F23645" stroke-width="0.95"/>
<rect x="1000.84" y="224.58" width="2.1" height="5.29" fill="#F23645"/>
<line x1="1004.44" y1="216.11" x2="1004.44" y2="226.67" stroke="#F23645" stroke-width="0.95"/>
<rect x="1003.39" y="219.19" width="2.1" height="7.18" fill="#F23645"/>
<line x1="1007.00" y1="222.78" x2="1007.00" y2="229.44" stroke="#089981" stroke-width="0.95"/>
<rect x="1005.95" y="223.84" width="2.1" height="4.53" fill="#089981"/>
<line x1="1009.56" y1="218.33" x2="1009.56" y2="225.56" stroke="#F23645" stroke-width="0.95"/>
<rect x="1008.51" y="219.21" width="2.1" height="4.91" fill="#F23645"/>
<line x1="1012.00" y1="226.67" x2="1012.00" y2="232.22" stroke="#F23645" stroke-width="0.95"/>
<rect x="1010.95" y="228.67" width="2.1" height="3.56" fill="#F23645"/>
<line x1="1014.44" y1="231.11" x2="1014.44" y2="238.89" stroke="#F23645" stroke-width="0.95"/>
<rect x="1013.39" y="231.80" width="2.1" height="5.29" fill="#F23645"/>
<line x1="1017.11" y1="224.44" x2="1017.11" y2="233.33" stroke="#089981" stroke-width="0.95"/>
<rect x="1016.06" y="224.76" width="2.1" height="6.04" fill="#089981"/>
<line x1="1019.67" y1="216.11" x2="1019.67" y2="227.78" stroke="#089981" stroke-width="0.95"/>
<rect x="1018.62" y="217.14" width="2.1" height="7.93" fill="#089981"/>
<line x1="1022.22" y1="202.22" x2="1022.22" y2="215.00" stroke="#089981" stroke-width="0.95"/>
<rect x="1021.17" y="203.99" width="2.1" height="8.69" fill="#089981"/>
<line x1="1024.78" y1="205.00" x2="1024.78" y2="210.56" stroke="#F23645" stroke-width="0.95"/>
<rect x="1023.73" y="205.89" width="2.1" height="3.78" fill="#F23645"/>
<line x1="1027.33" y1="209.11" x2="1027.33" y2="213.33" stroke="#F23645" stroke-width="0.95"/>
<rect x="1026.28" y="209.68" width="2.1" height="2.87" fill="#F23645"/>
<line x1="1029.78" y1="215.00" x2="1029.78" y2="223.89" stroke="#F23645" stroke-width="0.95"/>
<rect x="1028.73" y="215.31" width="2.1" height="6.04" fill="#F23645"/>
<line x1="1032.33" y1="213.11" x2="1032.33" y2="219.44" stroke="#089981" stroke-width="0.95"/>
<rect x="1031.28" y="213.40" width="2.1" height="4.31" fill="#089981"/>
<line x1="1034.89" y1="213.11" x2="1034.89" y2="216.11" stroke="#089981" stroke-width="0.95"/>
<rect x="1033.84" y="213.41" width="2.1" height="2.40" fill="#089981"/>
<line x1="1037.44" y1="210.89" x2="1037.44" y2="215.56" stroke="#089981" stroke-width="0.95"/>
<rect x="1036.39" y="211.19" width="2.1" height="3.17" fill="#089981"/>
<line x1="1040.00" y1="207.22" x2="1040.00" y2="212.22" stroke="#089981" stroke-width="0.95"/>
<rect x="1038.95" y="207.74" width="2.1" height="3.40" fill="#089981"/>
<line x1="1042.56" y1="199.78" x2="1042.56" y2="208.33" stroke="#089981" stroke-width="0.95"/>
<rect x="1041.51" y="200.98" width="2.1" height="5.82" fill="#089981"/>
<line x1="1045.11" y1="202.78" x2="1045.11" y2="210.00" stroke="#089981" stroke-width="0.95"/>
<rect x="1044.06" y="203.66" width="2.1" height="4.91" fill="#089981"/>
<line x1="1047.67" y1="188.89" x2="1047.67" y2="198.89" stroke="#F23645" stroke-width="0.95"/>
<rect x="1046.62" y="193.27" width="2.1" height="5.62" fill="#F23645"/>
<line x1="1050.22" y1="206.67" x2="1050.22" y2="215.00" stroke="#F23645" stroke-width="0.95"/>
<rect x="1049.17" y="206.67" width="2.1" height="5.61" fill="#F23645"/>
<line x1="1052.78" y1="200.56" x2="1052.78" y2="210.00" stroke="#089981" stroke-width="0.95"/>
<rect x="1051.73" y="201.79" width="2.1" height="6.42" fill="#089981"/>
<line x1="1055.33" y1="192.22" x2="1055.33" y2="201.67" stroke="#089981" stroke-width="0.95"/>
<rect x="1054.28" y="193.46" width="2.1" height="6.42" fill="#089981"/>
<line x1="1057.89" y1="193.89" x2="1057.89" y2="201.67" stroke="#F23645" stroke-width="0.95"/>
<rect x="1056.84" y="194.58" width="2.1" height="5.29" fill="#F23645"/>
<line x1="1060.44" y1="193.33" x2="1060.44" y2="208.89" stroke="#F23645" stroke-width="0.95"/>
<rect x="1059.39" y="194.71" width="2.1" height="10.58" fill="#F23645"/>
<line x1="1063.00" y1="203.33" x2="1063.00" y2="207.22" stroke="#089981" stroke-width="0.95"/>
<rect x="1061.95" y="203.68" width="2.1" height="2.64" fill="#089981"/>
<line x1="1065.56" y1="197.22" x2="1065.56" y2="210.00" stroke="#089981" stroke-width="0.95"/>
<rect x="1064.51" y="199.54" width="2.1" height="8.69" fill="#089981"/>
<line x1="1068.11" y1="193.11" x2="1068.11" y2="201.11" stroke="#089981" stroke-width="0.95"/>
<rect x="1067.06" y="194.50" width="2.1" height="5.44" fill="#089981"/>
<line x1="1070.67" y1="193.89" x2="1070.67" y2="213.33" stroke="#F23645" stroke-width="0.95"/>
<rect x="1069.62" y="195.61" width="2.1" height="13.22" fill="#F23645"/>
<line x1="1073.22" y1="206.11" x2="1073.22" y2="213.89" stroke="#089981" stroke-width="0.95"/>
<rect x="1072.17" y="206.80" width="2.1" height="5.29" fill="#089981"/>
<line x1="1075.78" y1="203.33" x2="1075.78" y2="211.11" stroke="#089981" stroke-width="0.95"/>
<rect x="1074.73" y="204.58" width="2.1" height="5.29" fill="#089981"/>
<line x1="1078.33" y1="205.00" x2="1078.33" y2="212.78" stroke="#089981" stroke-width="0.95"/>
<rect x="1077.28" y="205.69" width="2.1" height="5.29" fill="#089981"/>
<line x1="1080.56" y1="205.00" x2="1080.56" y2="225.56" stroke="#F23645" stroke-width="0.95"/>
<rect x="1079.51" y="206.34" width="2.1" height="13.98" fill="#F23645"/>
<path d="M3.9,394.6 L14.0,401.0 L14.0,414.6 Q14.0,416.6 12.0,416.6 L-4.199999999999999,416.6 Q-6.199999999999999,416.6 -6.199999999999999,414.6 L-6.199999999999999,401.0 Z" fill="#fff" stroke="#089981" stroke-width="1.7" stroke-linejoin="round"/>
<text x="3.9" y="411" text-anchor="middle" font-size="13" font-weight="700" fill="#089981">E</text>
<path d="M160.1,394.6 L170.2,401.0 L170.2,414.6 Q170.2,416.6 168.2,416.6 L152.0,416.6 Q150.0,416.6 150.0,414.6 L150.0,401.0 Z" fill="#fff" stroke="#089981" stroke-width="1.7" stroke-linejoin="round"/>
<text x="160.1" y="411" text-anchor="middle" font-size="13" font-weight="700" fill="#089981">E</text>
<path d="M479,394.6 L489.1,401.0 L489.1,414.6 Q489.1,416.6 487.1,416.6 L470.9,416.6 Q468.9,416.6 468.9,414.6 L468.9,401.0 Z" fill="#fff" stroke="#089981" stroke-width="1.7" stroke-linejoin="round"/>
<text x="479" y="411" text-anchor="middle" font-size="13" font-weight="700" fill="#089981">E</text>
<path d="M960.9,394.6 L971.0,401.0 L971.0,414.6 Q971.0,416.6 969.0,416.6 L952.8,416.6 Q950.8,416.6 950.8,414.6 L950.8,401.0 Z" fill="#fff" stroke="#089981" stroke-width="1.7" stroke-linejoin="round"/>
<text x="960.9" y="411" text-anchor="middle" font-size="13" font-weight="700" fill="#089981">E</text>
<path d="M314.79999999999995,396.6 L331.0,396.6 Q333.0,396.6 333.0,398.6 L333.0,412.0 L322.9,418.2 L312.79999999999995,412.0 L312.79999999999995,398.6 Q312.79999999999995,396.6 314.79999999999995,396.6 Z" fill="#fff" stroke="#F23645" stroke-width="1.7" stroke-linejoin="round"/>
<text x="322.9" y="411" text-anchor="middle" font-size="13" font-weight="700" fill="#F23645">E</text>
<path d="M633.5,396.6 L649.7,396.6 Q651.7,396.6 651.7,398.6 L651.7,412.0 L641.6,418.2 L631.5,412.0 L631.5,398.6 Q631.5,396.6 633.5,396.6 Z" fill="#fff" stroke="#F23645" stroke-width="1.7" stroke-linejoin="round"/>
<text x="641.6" y="411" text-anchor="middle" font-size="13" font-weight="700" fill="#F23645">E</text>
<path d="M786.9,396.6 L803.1,396.6 Q805.1,396.6 805.1,398.6 L805.1,412.0 L795,418.2 L784.9,412.0 L784.9,398.6 Q784.9,396.6 786.9,396.6 Z" fill="#fff" stroke="#F23645" stroke-width="1.7" stroke-linejoin="round"/>
<text x="795" y="411" text-anchor="middle" font-size="13" font-weight="700" fill="#F23645">E</text>
<circle cx="55.5" cy="406.4" r="10.9" fill="#fff" stroke="#2962FF" stroke-width="1.7"/>
<text x="55.5" y="411" text-anchor="middle" font-size="13" font-weight="700" fill="#2962FF">D</text>
<circle cx="210.9" cy="406.4" r="10.9" fill="#fff" stroke="#2962FF" stroke-width="1.7"/>
<text x="210.9" y="411" text-anchor="middle" font-size="13" font-weight="700" fill="#2962FF">D</text>
<circle cx="374.2" cy="406.4" r="10.9" fill="#fff" stroke="#2962FF" stroke-width="1.7"/>
<text x="374.2" y="411" text-anchor="middle" font-size="13" font-weight="700" fill="#2962FF">D</text>
<circle cx="537.2" cy="406.4" r="10.9" fill="#fff" stroke="#2962FF" stroke-width="1.7"/>
<text x="537.2" y="411" text-anchor="middle" font-size="13" font-weight="700" fill="#2962FF">D</text>
<circle cx="695.4" cy="406.4" r="10.9" fill="#fff" stroke="#2962FF" stroke-width="1.7"/>
<text x="695.4" y="411" text-anchor="middle" font-size="13" font-weight="700" fill="#2962FF">D</text>
<circle cx="854.1" cy="406.4" r="10.9" fill="#fff" stroke="#2962FF" stroke-width="1.7"/>
<text x="854.1" y="411" text-anchor="middle" font-size="13" font-weight="700" fill="#2962FF">D</text>
<circle cx="1009.4" cy="406.4" r="10.9" fill="#fff" stroke="#2962FF" stroke-width="1.7"/>
<text x="1009.4" y="411" text-anchor="middle" font-size="13" font-weight="700" fill="#2962FF">D</text>
<path d="M0.00,503.70000000000005 L0.00,507.78 L3.91,490.00 L6.76,546.00 L8.89,532.13 L11.56,537.11 L14.58,521.11 L16.89,518.44 L19.56,518.98 L21.87,526.44 L24.53,488.76 L26.67,495.87 L29.51,484.67 L32.00,491.78 L34.67,493.02 L37.16,509.56 L40.00,497.64 L42.67,500.67 L45.33,509.56 L47.29,513.11 L50.31,501.20 L52.44,507.24 L55.11,498.00 L57.78,485.56 L61.33,465.11 L64.89,462.44 L68.44,461.02 L70.58,455.87 L74.49,459.42 L76.98,461.02 L79.47,461.73 L81.42,467.78 L83.20,466.89 L85.69,479.33 L88.00,474.00 L90.67,491.78 L93.33,481.11 L96.00,487.33 L98.31,480.22 L100.98,484.67 L103.64,478.80 L106.13,485.56 L108.80,474.53 L111.11,491.78 L113.78,502.44 L116.44,506.89 L118.76,508.67 L121.42,527.33 L123.91,536.76 L126.58,526.44 L129.24,516.67 L131.56,513.11 L134.22,522.89 L137.13,509.56 L139.44,502.44 L142.11,490.89 L144.24,486.98 L146.91,492.67 L149.58,505.11 L152.24,493.56 L154.56,488.22 L157.22,494.80 L159.89,483.78 L162.38,462.80 L164.87,474.00 L167.36,472.76 L169.84,470.44 L172.33,472.22 L175.00,463.87 L177.67,469.56 L180.16,505.11 L182.64,502.80 L185.31,502.44 L187.80,508.67 L190.47,522.00 L192.96,534.44 L195.44,533.91 L197.93,531.78 L200.42,512.22 L203.09,521.11 L205.58,523.78 L208.24,522.00 L210.73,519.69 L213.22,524.67 L215.89,514.36 L218.38,525.56 L220.87,522.00 L223.36,521.47 L226.02,530.00 L228.51,539.78 L231.18,545.11 L233.67,561.11 L236.16,562.00 L238.64,546.89 L241.31,533.56 L243.80,522.89 L246.47,515.42 L248.96,521.11 L251.44,520.58 L254.11,519.69 L256.60,519.33 L259.09,513.11 L261.76,514.89 L264.24,516.67 L266.73,508.67 L269.22,501.56 L272.13,506.00 L274.62,492.67 L277.11,495.33 L279.78,488.22 L282.27,482.00 L284.93,469.56 L287.42,466.00 L289.91,462.09 L292.40,479.33 L294.89,487.69 L297.56,482.89 L299.87,486.44 L302.53,521.11 L305.02,509.56 L307.51,503.33 L310.18,495.33 L312.67,488.22 L315.16,490.89 L317.64,482.89 L320.31,469.56 L322.80,472.76 L324.90,446.70 L327.60,453.10 L330.20,459.50 L332.60,457.60 L335.20,454.20 L338.00,450.00 L340.90,455.70 L343.40,487.00 L345.91,480.22 L348.40,487.33 L350.89,496.22 L353.38,504.22 L356.04,495.33 L358.53,492.67 L361.02,494.44 L363.69,497.11 L366.18,480.22 L368.67,498.00 L371.33,493.56 L373.82,492.67 L376.31,479.33 L378.80,490.89 L381.47,493.56 L383.96,504.22 L386.44,505.47 L389.11,516.67 L391.60,514.00 L394.09,512.22 L396.58,522.89 L399.24,532.67 L401.73,526.44 L404.22,525.56 L407.13,533.56 L409.44,527.33 L412.11,537.11 L414.78,535.33 L417.27,538.53 L419.76,542.44 L422.24,547.42 L424.73,538.89 L427.40,533.56 L429.89,528.22 L432.56,519.33 L435.04,503.33 L437.53,485.56 L440.02,466.89 L442.69,459.24 L445.18,464.22 L447.67,463.33 L450.16,486.44 L452.82,481.64 L455.31,481.11 L457.98,480.58 L460.47,489.11 L462.96,496.58 L465.44,497.64 L468.11,498.89 L470.60,493.56 L473.09,488.22 L475.76,487.87 L478.24,500.67 L480.91,476.67 L483.40,479.33 L486.07,469.91 L488.56,497.11 L491.04,492.31 L493.71,495.33 L496.20,496.58 L498.69,506.00 L501.36,507.78 L503.84,511.69 L506.33,491.24 L509.00,507.78 L511.49,494.44 L513.98,480.22 L516.64,478.44 L519.13,490.00 L521.62,492.31 L524.29,492.67 L526.78,474.89 L529.44,485.56 L531.93,475.78 L534.42,474.00 L537.09,473.64 L539.58,471.33 L542.31,473.11 L544.80,494.44 L547.47,482.36 L549.96,498.00 L552.44,520.22 L555.11,518.44 L557.60,514.89 L560.27,522.00 L562.76,511.33 L565.24,526.44 L567.91,534.98 L570.40,532.67 L572.89,525.56 L575.56,546.89 L578.04,538.89 L580.53,533.56 L583.02,524.67 L585.69,497.11 L588.18,484.67 L590.67,478.44 L593.33,466.89 L595.82,459.24 L598.31,466.89 L600.80,470.44 L603.47,491.78 L605.96,500.67 L608.44,490.89 L611.11,478.44 L613.60,487.33 L616.09,486.98 L618.76,502.44 L621.24,501.91 L623.73,521.11 L626.40,530.00 L628.89,544.22 L631.38,533.56 L634.04,521.11 L636.53,513.11 L639.20,502.98 L641.69,506.89 L644.18,517.91 L646.84,513.11 L649.33,521.11 L651.82,526.44 L654.49,526.80 L656.98,537.11 L659.47,540.67 L662.13,538.53 L664.62,533.56 L667.11,527.33 L669.78,520.22 L672.27,513.11 L674.76,509.56 L677.49,496.58 L679.98,495.87 L682.47,507.24 L685.13,510.09 L687.62,522.00 L690.11,530.00 L692.78,524.67 L695.27,542.44 L697.76,541.56 L700.42,534.98 L702.91,532.13 L705.40,531.42 L708.07,526.44 L710.56,501.56 L713.22,482.00 L715.71,474.53 L718.20,483.78 L720.87,513.64 L723.36,506.89 L725.84,504.76 L728.51,504.76 L731.00,507.78 L733.67,507.78 L736.16,506.89 L738.64,474.00 L741.13,485.20 L743.80,487.33 L746.29,493.56 L748.78,494.09 L751.44,511.33 L753.93,505.11 L756.42,503.33 L759.09,492.31 L761.58,477.02 L764.07,495.33 L766.73,511.33 L769.22,506.00 L771.89,502.98 L774.38,501.20 L776.87,519.69 L779.53,517.91 L782.02,522.53 L784.51,513.11 L787.18,507.78 L789.67,524.67 L792.16,517.56 L794.82,514.36 L797.31,517.56 L799.80,505.11 L802.47,502.98 L804.96,507.24 L807.44,491.78 L809.76,505.11 L812.49,493.56 L814.98,495.87 L817.64,502.98 L820.13,498.36 L822.62,501.56 L825.29,515.78 L827.78,514.36 L830.44,522.89 L832.93,519.33 L835.42,517.56 L838.09,507.78 L840.58,521.11 L843.07,530.00 L845.73,521.11 L848.22,523.78 L850.71,504.76 L853.38,508.31 L855.87,509.02 L858.53,502.44 L861.02,495.87 L863.51,498.00 L866.18,493.56 L868.67,525.02 L871.33,516.67 L873.82,520.76 L876.31,506.89 L878.98,496.58 L881.47,488.22 L883.96,477.56 L886.62,467.42 L889.11,470.44 L891.60,465.11 L894.27,472.22 L896.76,474.53 L899.24,473.11 L901.91,472.22 L904.40,480.58 L907.07,468.67 L909.56,461.56 L912.04,455.87 L914.71,465.64 L917.20,464.22 L919.69,467.78 L922.36,463.33 L924.84,482.00 L927.33,501.56 L930.00,503.33 L932.49,478.44 L934.98,476.67 L937.64,478.09 L940.19,473.70 L942.78,462.59 L945.37,451.48 L947.96,458.52 L950.56,460.96 L953.15,461.85 L955.74,455.56 L958.33,457.04 L960.93,472.96 L963.52,454.81 L966.11,436.67 L968.70,445.56 L971.30,459.63 L973.89,470.37 L976.47,481.11 L978.78,475.78 L981.27,485.56 L983.76,509.56 L986.42,505.11 L988.91,504.58 L991.40,503.87 L994.07,495.87 L996.56,487.87 L999.22,490.00 L1001.71,491.78 L1004.20,498.36 L1006.87,488.76 L1009.36,490.00 L1011.84,491.78 L1014.51,501.56 L1017.00,505.11 L1019.49,486.44 L1022.16,472.76 L1024.64,482.89 L1027.13,482.00 L1029.80,482.53 L1032.29,484.67 L1034.78,492.31 L1037.44,497.64 L1039.93,493.56 L1042.42,486.44 L1045.09,470.98 L1047.58,474.00 L1050.07,494.44 L1052.73,485.56 L1055.22,489.11 L1057.71,489.47 L1060.38,497.11 L1062.87,498.89 L1065.36,488.22 L1068.02,480.22 L1070.51,510.44 L1073.00,514.00 L1075.67,514.89 L1077.98,501.56 L1080.47,518.44 L1080.47,503.70000000000005 Z" fill="#787B86" fill-opacity="0.10"/>
<line x1="0" y1="503.80" x2="1080" y2="503.80" stroke="#9598A1" stroke-width="1.2"/>
<line x1="-0.72" y1="460.2" x2="1080" y2="460.2" stroke="#FF5252" stroke-width="1.2" stroke-dasharray="1.35 2.04" stroke-opacity="0.9"/>
<line x1="-0.72" y1="547.2" x2="1080" y2="547.2" stroke="#4CAF50" stroke-width="1.2" stroke-dasharray="1.35 2.04" stroke-opacity="0.9"/>
<polyline points="0.00,507.78 3.91,490.00 6.76,546.00 8.89,532.13 11.56,537.11 14.58,521.11 16.89,518.44 19.56,518.98 21.87,526.44 24.53,488.76 26.67,495.87 29.51,484.67 32.00,491.78 34.67,493.02 37.16,509.56 40.00,497.64 42.67,500.67 45.33,509.56 47.29,513.11 50.31,501.20 52.44,507.24 55.11,498.00 57.78,485.56 61.33,465.11 64.89,462.44 68.44,461.02" fill="none" stroke="#2962FF" stroke-width="2.3" stroke-linejoin="round" stroke-linecap="round"/>
<polyline points="68.44,461.02 70.58,455.87 74.49,459.42" fill="none" stroke="#FF5252" stroke-width="2.3" stroke-linejoin="round" stroke-linecap="round"/>
<polyline points="74.49,459.42 76.98,461.02 79.47,461.73 81.42,467.78 83.20,466.89 85.69,479.33 88.00,474.00 90.67,491.78 93.33,481.11 96.00,487.33 98.31,480.22 100.98,484.67 103.64,478.80 106.13,485.56 108.80,474.53 111.11,491.78 113.78,502.44 116.44,506.89 118.76,508.67 121.42,527.33 123.91,536.76 126.58,526.44 129.24,516.67 131.56,513.11 134.22,522.89 137.13,509.56 139.44,502.44 142.11,490.89 144.24,486.98 146.91,492.67 149.58,505.11 152.24,493.56 154.56,488.22 157.22,494.80 159.89,483.78 162.38,462.80 164.87,474.00 167.36,472.76 169.84,470.44 172.33,472.22 175.00,463.87 177.67,469.56 180.16,505.11 182.64,502.80 185.31,502.44 187.80,508.67 190.47,522.00 192.96,534.44 195.44,533.91 197.93,531.78 200.42,512.22 203.09,521.11 205.58,523.78 208.24,522.00 210.73,519.69 213.22,524.67 215.89,514.36 218.38,525.56 220.87,522.00 223.36,521.47 226.02,530.00 228.51,539.78 231.18,545.11" fill="none" stroke="#2962FF" stroke-width="2.3" stroke-linejoin="round" stroke-linecap="round"/>
<polyline points="231.18,545.11 233.67,561.11" fill="none" stroke="#4CAF50" stroke-width="2.3" stroke-linejoin="round" stroke-linecap="round"/>
<polyline points="233.67,561.11 236.16,562.00 238.64,546.89 241.31,533.56 243.80,522.89 246.47,515.42 248.96,521.11 251.44,520.58 254.11,519.69 256.60,519.33 259.09,513.11 261.76,514.89 264.24,516.67 266.73,508.67 269.22,501.56 272.13,506.00 274.62,492.67 277.11,495.33 279.78,488.22 282.27,482.00 284.93,469.56 287.42,466.00 289.91,462.09 292.40,479.33 294.89,487.69 297.56,482.89 299.87,486.44 302.53,521.11 305.02,509.56 307.51,503.33 310.18,495.33 312.67,488.22 315.16,490.89 317.64,482.89 320.31,469.56 322.80,472.76" fill="none" stroke="#2962FF" stroke-width="2.3" stroke-linejoin="round" stroke-linecap="round"/>
<polyline points="322.80,472.76 324.90,446.70 327.60,453.10" fill="none" stroke="#FF5252" stroke-width="2.3" stroke-linejoin="round" stroke-linecap="round"/>
<polyline points="327.60,453.10 330.20,459.50" fill="none" stroke="#2962FF" stroke-width="2.3" stroke-linejoin="round" stroke-linecap="round"/>
<polyline points="330.20,459.50 332.60,457.60 335.20,454.20 338.00,450.00 340.90,455.70" fill="none" stroke="#FF5252" stroke-width="2.3" stroke-linejoin="round" stroke-linecap="round"/>
<polyline points="340.90,455.70 343.40,487.00 345.91,480.22 348.40,487.33 350.89,496.22 353.38,504.22 356.04,495.33 358.53,492.67 361.02,494.44 363.69,497.11 366.18,480.22 368.67,498.00 371.33,493.56 373.82,492.67 376.31,479.33 378.80,490.89 381.47,493.56 383.96,504.22 386.44,505.47 389.11,516.67 391.60,514.00 394.09,512.22 396.58,522.89 399.24,532.67 401.73,526.44 404.22,525.56 407.13,533.56 409.44,527.33 412.11,537.11 414.78,535.33 417.27,538.53 419.76,542.44" fill="none" stroke="#2962FF" stroke-width="2.3" stroke-linejoin="round" stroke-linecap="round"/>
<polyline points="419.76,542.44 422.24,547.42" fill="none" stroke="#4CAF50" stroke-width="2.3" stroke-linejoin="round" stroke-linecap="round"/>
<polyline points="422.24,547.42 424.73,538.89 427.40,533.56 429.89,528.22 432.56,519.33 435.04,503.33 437.53,485.56 440.02,466.89" fill="none" stroke="#2962FF" stroke-width="2.3" stroke-linejoin="round" stroke-linecap="round"/>
<polyline points="440.02,466.89 442.69,459.24" fill="none" stroke="#FF5252" stroke-width="2.3" stroke-linejoin="round" stroke-linecap="round"/>
<polyline points="442.69,459.24 445.18,464.22 447.67,463.33 450.16,486.44 452.82,481.64 455.31,481.11 457.98,480.58 460.47,489.11 462.96,496.58 465.44,497.64 468.11,498.89 470.60,493.56 473.09,488.22 475.76,487.87 478.24,500.67 480.91,476.67 483.40,479.33 486.07,469.91 488.56,497.11 491.04,492.31 493.71,495.33 496.20,496.58 498.69,506.00 501.36,507.78 503.84,511.69 506.33,491.24 509.00,507.78 511.49,494.44 513.98,480.22 516.64,478.44 519.13,490.00 521.62,492.31 524.29,492.67 526.78,474.89 529.44,485.56 531.93,475.78 534.42,474.00 537.09,473.64 539.58,471.33 542.31,473.11 544.80,494.44 547.47,482.36 549.96,498.00 552.44,520.22 555.11,518.44 557.60,514.89 560.27,522.00 562.76,511.33 565.24,526.44 567.91,534.98 570.40,532.67 572.89,525.56" fill="none" stroke="#2962FF" stroke-width="2.3" stroke-linejoin="round" stroke-linecap="round"/>
<polyline points="572.89,525.56 575.56,546.89" fill="none" stroke="#4CAF50" stroke-width="2.3" stroke-linejoin="round" stroke-linecap="round"/>
<polyline points="575.56,546.89 578.04,538.89 580.53,533.56 583.02,524.67 585.69,497.11 588.18,484.67 590.67,478.44 593.33,466.89" fill="none" stroke="#2962FF" stroke-width="2.3" stroke-linejoin="round" stroke-linecap="round"/>
<polyline points="593.33,466.89 595.82,459.24" fill="none" stroke="#FF5252" stroke-width="2.3" stroke-linejoin="round" stroke-linecap="round"/>
<polyline points="595.82,459.24 598.31,466.89 600.80,470.44 603.47,491.78 605.96,500.67 608.44,490.89 611.11,478.44 613.60,487.33 616.09,486.98 618.76,502.44 621.24,501.91 623.73,521.11 626.40,530.00 628.89,544.22 631.38,533.56 634.04,521.11 636.53,513.11 639.20,502.98 641.69,506.89 644.18,517.91 646.84,513.11 649.33,521.11 651.82,526.44 654.49,526.80 656.98,537.11 659.47,540.67 662.13,538.53 664.62,533.56 667.11,527.33 669.78,520.22 672.27,513.11 674.76,509.56 677.49,496.58 679.98,495.87 682.47,507.24 685.13,510.09 687.62,522.00 690.11,530.00 692.78,524.67 695.27,542.44 697.76,541.56 700.42,534.98 702.91,532.13 705.40,531.42 708.07,526.44 710.56,501.56 713.22,482.00 715.71,474.53 718.20,483.78 720.87,513.64 723.36,506.89 725.84,504.76 728.51,504.76 731.00,507.78 733.67,507.78 736.16,506.89 738.64,474.00 741.13,485.20 743.80,487.33 746.29,493.56 748.78,494.09 751.44,511.33 753.93,505.11 756.42,503.33 759.09,492.31 761.58,477.02 764.07,495.33 766.73,511.33 769.22,506.00 771.89,502.98 774.38,501.20 776.87,519.69 779.53,517.91 782.02,522.53 784.51,513.11 787.18,507.78 789.67,524.67 792.16,517.56 794.82,514.36 797.31,517.56 799.80,505.11 802.47,502.98 804.96,507.24 807.44,491.78 809.76,505.11 812.49,493.56 814.98,495.87 817.64,502.98 820.13,498.36 822.62,501.56 825.29,515.78 827.78,514.36 830.44,522.89 832.93,519.33 835.42,517.56 838.09,507.78 840.58,521.11 843.07,530.00 845.73,521.11 848.22,523.78 850.71,504.76 853.38,508.31 855.87,509.02 858.53,502.44 861.02,495.87 863.51,498.00 866.18,493.56 868.67,525.02 871.33,516.67 873.82,520.76 876.31,506.89 878.98,496.58 881.47,488.22 883.96,477.56 886.62,467.42 889.11,470.44 891.60,465.11 894.27,472.22 896.76,474.53 899.24,473.11 901.91,472.22 904.40,480.58 907.07,468.67 909.56,461.56" fill="none" stroke="#2962FF" stroke-width="2.3" stroke-linejoin="round" stroke-linecap="round"/>
<polyline points="909.56,461.56 912.04,455.87" fill="none" stroke="#FF5252" stroke-width="2.3" stroke-linejoin="round" stroke-linecap="round"/>
<polyline points="912.04,455.87 914.71,465.64 917.20,464.22 919.69,467.78 922.36,463.33 924.84,482.00 927.33,501.56 930.00,503.33 932.49,478.44 934.98,476.67 937.64,478.09 940.19,473.70" fill="none" stroke="#2962FF" stroke-width="2.3" stroke-linejoin="round" stroke-linecap="round"/>
<polyline points="940.19,473.70 942.78,462.59 945.37,451.48 947.96,458.52" fill="none" stroke="#FF5252" stroke-width="2.3" stroke-linejoin="round" stroke-linecap="round"/>
<polyline points="947.96,458.52 950.56,460.96 953.15,461.85" fill="none" stroke="#2962FF" stroke-width="2.3" stroke-linejoin="round" stroke-linecap="round"/>
<polyline points="953.15,461.85 955.74,455.56 958.33,457.04" fill="none" stroke="#FF5252" stroke-width="2.3" stroke-linejoin="round" stroke-linecap="round"/>
<polyline points="958.33,457.04 960.93,472.96" fill="none" stroke="#2962FF" stroke-width="2.3" stroke-linejoin="round" stroke-linecap="round"/>
<polyline points="960.93,472.96 963.52,454.81 966.11,436.67 968.70,445.56" fill="none" stroke="#FF5252" stroke-width="2.3" stroke-linejoin="round" stroke-linecap="round"/>
<polyline points="968.70,445.56 971.30,459.63 973.89,470.37 976.47,481.11 978.78,475.78 981.27,485.56 983.76,509.56 986.42,505.11 988.91,504.58 991.40,503.87 994.07,495.87 996.56,487.87 999.22,490.00 1001.71,491.78 1004.20,498.36 1006.87,488.76 1009.36,490.00 1011.84,491.78 1014.51,501.56 1017.00,505.11 1019.49,486.44 1022.16,472.76 1024.64,482.89 1027.13,482.00 1029.80,482.53 1032.29,484.67 1034.78,492.31 1037.44,497.64 1039.93,493.56 1042.42,486.44 1045.09,470.98 1047.58,474.00 1050.07,494.44 1052.73,485.56 1055.22,489.11 1057.71,489.47 1060.38,497.11 1062.87,498.89 1065.36,488.22 1068.02,480.22 1070.51,510.44 1073.00,514.00 1075.67,514.89 1077.98,501.56 1080.47,518.44" fill="none" stroke="#2962FF" stroke-width="2.3" stroke-linejoin="round" stroke-linecap="round"/>
<path d="M70.90,445.5 L81.10,445.5 L76.00,455.2 Z" fill="#FF5252"/>
<path d="M325.30,445.5 L335.50,445.5 L330.40,455.2 Z" fill="#FF5252"/>
<path d="M338.80,445.5 L349.00,445.5 L343.90,455.2 Z" fill="#FF5252"/>
<path d="M440.50,445.5 L450.70,445.5 L445.60,455.2 Z" fill="#FF5252"/>
<path d="M593.50,445.5 L603.70,445.5 L598.60,455.2 Z" fill="#FF5252"/>
<path d="M909.90,445.5 L920.10,445.5 L915.00,455.2 Z" fill="#FF5252"/>
<path d="M945.60,445.5 L955.80,445.5 L950.70,455.2 Z" fill="#FF5252"/>
<path d="M955.70,445.5 L965.90,445.5 L960.80,455.2 Z" fill="#FF5252"/>
<path d="M965.90,445.5 L976.10,445.5 L971.00,455.2 Z" fill="#FF5252"/>
<path d="M234.30,552.6 L244.50,552.6 L239.40,543.4 Z" fill="#4CAF50"/>
<path d="M419.80,552.6 L430.00,552.6 L424.90,543.4 Z" fill="#4CAF50"/>
<path d="M573.00,552.6 L583.20,552.6 L578.10,543.4 Z" fill="#4CAF50"/>
<text x="50.77" y="471.4" font-size="13.3" font-weight="400" fill="#2962FF" letter-spacing="0.517" fill-opacity="0.92" stroke="#2962FF" stroke-width="0.3" stroke-opacity="0.92">UO</text>
<text x="82.07" y="471.4" font-size="13.3" font-weight="400" fill="#2962FF" letter-spacing="-0.159" fill-opacity="0.92" stroke="#2962FF" stroke-width="0.3" stroke-opacity="0.92">OB</text>
<path d="M76.30,462.2 L76.30,471.09999999999997 M73.00,467.9 L76.30,471.2 L79.60,467.9" fill="none" stroke="#2962FF" stroke-opacity="0.92" stroke-width="1.3"/>
<text x="305.17" y="471.4" font-size="13.3" font-weight="400" fill="#2962FF" letter-spacing="0.517" fill-opacity="0.92" stroke="#2962FF" stroke-width="0.3" stroke-opacity="0.92">UO</text>
<text x="336.47" y="471.4" font-size="13.3" font-weight="400" fill="#2962FF" letter-spacing="-0.159" fill-opacity="0.92" stroke="#2962FF" stroke-width="0.3" stroke-opacity="0.92">OB</text>
<path d="M330.70,462.2 L330.70,471.09999999999997 M327.40,467.9 L330.70,471.2 L334.00,467.9" fill="none" stroke="#2962FF" stroke-opacity="0.92" stroke-width="1.3"/>
<text x="318.67" y="471.4" font-size="13.3" font-weight="400" fill="#2962FF" letter-spacing="0.517" fill-opacity="0.92" stroke="#2962FF" stroke-width="0.3" stroke-opacity="0.92">UO</text>
<text x="349.97" y="471.4" font-size="13.3" font-weight="400" fill="#2962FF" letter-spacing="-0.159" fill-opacity="0.92" stroke="#2962FF" stroke-width="0.3" stroke-opacity="0.92">OB</text>
<path d="M344.20,462.2 L344.20,471.09999999999997 M340.90,467.9 L344.20,471.2 L347.50,467.9" fill="none" stroke="#2962FF" stroke-opacity="0.92" stroke-width="1.3"/>
<text x="420.37" y="471.4" font-size="13.3" font-weight="400" fill="#2962FF" letter-spacing="0.517" fill-opacity="0.92" stroke="#2962FF" stroke-width="0.3" stroke-opacity="0.92">UO</text>
<text x="451.67" y="471.4" font-size="13.3" font-weight="400" fill="#2962FF" letter-spacing="-0.159" fill-opacity="0.92" stroke="#2962FF" stroke-width="0.3" stroke-opacity="0.92">OB</text>
<path d="M445.90,462.2 L445.90,471.09999999999997 M442.60,467.9 L445.90,471.2 L449.20,467.9" fill="none" stroke="#2962FF" stroke-opacity="0.92" stroke-width="1.3"/>
<text x="573.37" y="471.4" font-size="13.3" font-weight="400" fill="#2962FF" letter-spacing="0.517" fill-opacity="0.92" stroke="#2962FF" stroke-width="0.3" stroke-opacity="0.92">UO</text>
<text x="604.67" y="471.4" font-size="13.3" font-weight="400" fill="#2962FF" letter-spacing="-0.159" fill-opacity="0.92" stroke="#2962FF" stroke-width="0.3" stroke-opacity="0.92">OB</text>
<path d="M598.90,462.2 L598.90,471.09999999999997 M595.60,467.9 L598.90,471.2 L602.20,467.9" fill="none" stroke="#2962FF" stroke-opacity="0.92" stroke-width="1.3"/>
<text x="889.77" y="471.4" font-size="13.3" font-weight="400" fill="#2962FF" letter-spacing="0.517" fill-opacity="0.92" stroke="#2962FF" stroke-width="0.3" stroke-opacity="0.92">UO</text>
<text x="921.07" y="471.4" font-size="13.3" font-weight="400" fill="#2962FF" letter-spacing="-0.159" fill-opacity="0.92" stroke="#2962FF" stroke-width="0.3" stroke-opacity="0.92">OB</text>
<path d="M915.30,462.2 L915.30,471.09999999999997 M912.00,467.9 L915.30,471.2 L918.60,467.9" fill="none" stroke="#2962FF" stroke-opacity="0.92" stroke-width="1.3"/>
<text x="925.47" y="471.4" font-size="13.3" font-weight="400" fill="#2962FF" letter-spacing="0.517" fill-opacity="0.92" stroke="#2962FF" stroke-width="0.3" stroke-opacity="0.92">UO</text>
<text x="956.77" y="471.4" font-size="13.3" font-weight="400" fill="#2962FF" letter-spacing="-0.159" fill-opacity="0.92" stroke="#2962FF" stroke-width="0.3" stroke-opacity="0.92">OB</text>
<path d="M951.00,462.2 L951.00,471.09999999999997 M947.70,467.9 L951.00,471.2 L954.30,467.9" fill="none" stroke="#2962FF" stroke-opacity="0.92" stroke-width="1.3"/>
<text x="935.57" y="471.4" font-size="13.3" font-weight="400" fill="#2962FF" letter-spacing="0.517" fill-opacity="0.92" stroke="#2962FF" stroke-width="0.3" stroke-opacity="0.92">UO</text>
<text x="966.87" y="471.4" font-size="13.3" font-weight="400" fill="#2962FF" letter-spacing="-0.159" fill-opacity="0.92" stroke="#2962FF" stroke-width="0.3" stroke-opacity="0.92">OB</text>
<path d="M961.10,462.2 L961.10,471.09999999999997 M957.80,467.9 L961.10,471.2 L964.40,467.9" fill="none" stroke="#2962FF" stroke-opacity="0.92" stroke-width="1.3"/>
<text x="945.77" y="471.4" font-size="13.3" font-weight="400" fill="#2962FF" letter-spacing="0.517" fill-opacity="0.92" stroke="#2962FF" stroke-width="0.3" stroke-opacity="0.92">UO</text>
<text x="977.07" y="471.4" font-size="13.3" font-weight="400" fill="#2962FF" letter-spacing="-0.159" fill-opacity="0.92" stroke="#2962FF" stroke-width="0.3" stroke-opacity="0.92">OB</text>
<path d="M971.30,462.2 L971.30,471.09999999999997 M968.00,467.9 L971.30,471.2 L974.60,467.9" fill="none" stroke="#2962FF" stroke-opacity="0.92" stroke-width="1.3"/>
<text x="213.97" y="540.2" font-size="13.3" font-weight="400" fill="#2962FF" letter-spacing="0.117" fill-opacity="0.92" stroke="#2962FF" stroke-width="0.3" stroke-opacity="0.92">UO</text>
<text x="245.67" y="540.2" font-size="13.3" font-weight="400" fill="#2962FF" letter-spacing="-0.492" fill-opacity="0.92" stroke="#2962FF" stroke-width="0.3" stroke-opacity="0.92">OS</text>
<path d="M239.10,540.1 L239.10,531.1 M235.80,534.3000000000001 L239.10,531.0 L242.40,534.3000000000001" fill="none" stroke="#2962FF" stroke-opacity="0.92" stroke-width="1.3"/>
<text x="399.47" y="540.2" font-size="13.3" font-weight="400" fill="#2962FF" letter-spacing="0.117" fill-opacity="0.92" stroke="#2962FF" stroke-width="0.3" stroke-opacity="0.92">UO</text>
<text x="431.17" y="540.2" font-size="13.3" font-weight="400" fill="#2962FF" letter-spacing="-0.492" fill-opacity="0.92" stroke="#2962FF" stroke-width="0.3" stroke-opacity="0.92">OS</text>
<path d="M424.60,540.1 L424.60,531.1 M421.30,534.3000000000001 L424.60,531.0 L427.90,534.3000000000001" fill="none" stroke="#2962FF" stroke-opacity="0.92" stroke-width="1.3"/>
<text x="552.67" y="540.2" font-size="13.3" font-weight="400" fill="#2962FF" letter-spacing="0.117" fill-opacity="0.92" stroke="#2962FF" stroke-width="0.3" stroke-opacity="0.92">UO</text>
<text x="584.37" y="540.2" font-size="13.3" font-weight="400" fill="#2962FF" letter-spacing="-0.492" fill-opacity="0.92" stroke="#2962FF" stroke-width="0.3" stroke-opacity="0.92">OS</text>
<path d="M577.80,540.1 L577.80,531.1 M574.50,534.3000000000001 L577.80,531.0 L581.10,534.3000000000001" fill="none" stroke="#2962FF" stroke-opacity="0.92" stroke-width="1.3"/>
<text transform="translate(22.33,596.9) scale(1.1470,1)" font-size="13.8" font-weight="700" fill="#17191f">2024</text>
<text x="131.80" y="596.9" font-size="13.7" font-weight="400" fill="#17191f" letter-spacing="0.540">Mar</text>
<text x="238.20" y="596.9" font-size="13.7" font-weight="400" fill="#17191f" letter-spacing="0.207">May</text>
<text x="347.46" y="596.9" font-size="13.7" font-weight="400" fill="#17191f" letter-spacing="0.638">Jul</text>
<text x="456.15" y="596.9" font-size="13.7" font-weight="400" fill="#17191f" letter-spacing="0.233">Sep</text>
<text x="565.15" y="596.9" font-size="13.7" font-weight="400" fill="#17191f" letter-spacing="0.417">Nov</text>
<text transform="translate(665.12,596.9) scale(1.1629,1)" font-size="13.8" font-weight="700" fill="#17191f">2025</text>
<text x="769.75" y="596.9" font-size="13.7" font-weight="400" fill="#17191f" letter-spacing="0.590">Mar</text>
<text x="876.00" y="596.9" font-size="13.7" font-weight="400" fill="#17191f" letter-spacing="0.107">May</text>
<text x="985.46" y="596.9" font-size="13.7" font-weight="400" fill="#17191f" letter-spacing="0.538">Jul</text>
<text x="-4.45" y="22.5" font-size="14.2" font-weight="400" fill="#17191f" letter-spacing="0.015">ngView.com,</text>
<text x="79.66" y="22.5" font-size="14.2" font-weight="400" fill="#17191f" letter-spacing="-0.108">Nov</text>
<text x="108.21" y="22.5" font-size="14.2" font-weight="400" fill="#17191f" letter-spacing="-0.299">12,</text>
<text x="131.09" y="22.5" font-size="14.2" font-weight="400" fill="#17191f" letter-spacing="0.378">2025</text>
<text x="168.47" y="22.5" font-size="14.2" font-weight="400" fill="#17191f" letter-spacing="0.526">06:33</text>
<text x="209.81" y="22.5" font-size="14.2" font-weight="400" fill="#17191f" letter-spacing="-0.666">UTC</text>
<text x="-2.16" y="52.8" font-size="14" font-weight="400" fill="#F23645" letter-spacing="0.000">.</text>
<text x="1.50" y="52.8" font-size="14" font-weight="400" fill="#F23645" letter-spacing="0.434">23</text>
<text x="25.08" y="52.8" font-size="14" font-weight="400" fill="#17191f" letter-spacing="0.000">H</text>
<text x="35.80" y="52.8" font-size="14" font-weight="400" fill="#F23645" letter-spacing="0.017">237.45</text>
<text x="86.68" y="52.8" font-size="14" font-weight="400" fill="#17191f" letter-spacing="0.000">L</text>
<text x="94.80" y="52.8" font-size="14" font-weight="400" fill="#F23645" letter-spacing="0.505">228.89</text>
<text x="147.80" y="52.8" font-size="14" font-weight="400" fill="#17191f" letter-spacing="0.000">C</text>
<text x="157.80" y="52.8" font-size="14" font-weight="400" fill="#F23645" letter-spacing="-0.123">236.15</text>
<text x="208.44" y="52.8" font-size="14" font-weight="400" fill="#F23645" letter-spacing="0.286">−4.68</text>
<text x="250.36" y="52.8" font-size="14" font-weight="400" fill="#F23645" letter-spacing="-0.045">(−1.94%)</text>
</svg></body></html>
